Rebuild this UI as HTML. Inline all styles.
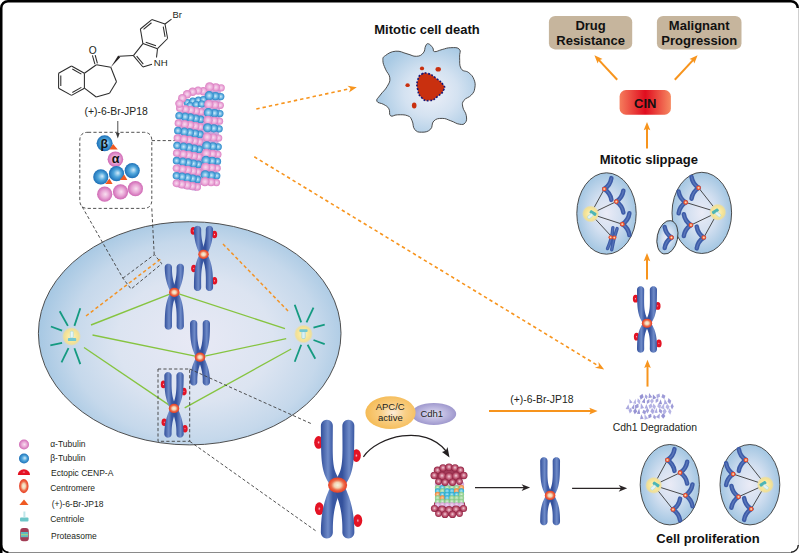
<!DOCTYPE html><html><head><meta charset="utf-8"><title>JP18 mitosis diagram</title><style>html,body{margin:0;padding:0;background:#fff;width:799px;height:553px;overflow:hidden;}svg{display:block;font-family:"Liberation Sans",sans-serif;}</style></head><body><svg width="799" height="553" viewBox="0 0 799 553"><defs>
<radialGradient id="cellg" gradientUnits="userSpaceOnUse" cx="195" cy="340" r="156" gradientTransform="translate(195 340) scale(1 0.8) translate(-195 -340)">
  <stop offset="0" stop-color="#e8e9f5"/>
  <stop offset="0.5" stop-color="#dce4f1"/>
  <stop offset="0.8" stop-color="#c5d8eb"/>
  <stop offset="1" stop-color="#a7c8e3"/>
</radialGradient>
<radialGradient id="scellg" cx="50%" cy="50%" r="50%">
  <stop offset="0" stop-color="#eaebf6"/>
  <stop offset="0.5" stop-color="#d2dff0"/>
  <stop offset="1" stop-color="#a3c6e2"/>
</radialGradient>
<radialGradient id="deadg" cx="55%" cy="55%" r="55%">
  <stop offset="0" stop-color="#eef0f8"/>
  <stop offset="0.5" stop-color="#d4e2f1"/>
  <stop offset="1" stop-color="#a9cae4"/>
</radialGradient>
<radialGradient id="pinkb" cx="50%" cy="50%" r="50%" fx="50%" fy="50%">
  <stop offset="0" stop-color="#f7dcf0"/>
  <stop offset="0.5" stop-color="#eeb2dd"/>
  <stop offset="1" stop-color="#db7ec2"/>
</radialGradient>
<radialGradient id="blueb" cx="50%" cy="50%" r="50%" fx="50%" fy="50%">
  <stop offset="0" stop-color="#d2ebf9"/>
  <stop offset="0.5" stop-color="#74bbe6"/>
  <stop offset="1" stop-color="#2886c8"/>
</radialGradient>
<radialGradient id="pinkB" cx="50%" cy="50%" r="50%" fx="55%" fy="50%">
  <stop offset="0" stop-color="#f8e0f0"/>
  <stop offset="0.55" stop-color="#e7a3d4"/>
  <stop offset="1" stop-color="#cf68b4"/>
</radialGradient>
<radialGradient id="blueB" cx="50%" cy="50%" r="50%" fx="60%" fy="45%">
  <stop offset="0" stop-color="#d4ecfa"/>
  <stop offset="0.5" stop-color="#4fa6dc"/>
  <stop offset="1" stop-color="#1c6fb6"/>
</radialGradient>
<radialGradient id="centg" cx="50%" cy="50%" r="50%">
  <stop offset="0" stop-color="#f5f2de"/>
  <stop offset="0.36" stop-color="#f3d2b2"/>
  <stop offset="0.66" stop-color="#ed6c4a"/>
  <stop offset="0.88" stop-color="#e94b2e"/>
  <stop offset="1" stop-color="#e6452c"/>
</radialGradient>
<radialGradient id="scentg" cx="50%" cy="50%" r="50%">
  <stop offset="0" stop-color="#f8e4c8"/>
  <stop offset="0.3" stop-color="#f4b890"/>
  <stop offset="0.6" stop-color="#ec5a36"/>
  <stop offset="1" stop-color="#e5452c"/>
</radialGradient>
<radialGradient id="markg" cx="50%" cy="50%" r="50%">
  <stop offset="0" stop-color="#f8c4cb"/>
  <stop offset="0.13" stop-color="#f07080"/>
  <stop offset="0.3" stop-color="#e5152a"/>
  <stop offset="1" stop-color="#e3101f"/>
</radialGradient>
<radialGradient id="glowg" cx="50%" cy="50%" r="50%">
  <stop offset="0" stop-color="#fbf2cc"/>
  <stop offset="0.5" stop-color="#f8e79a"/>
  <stop offset="0.8" stop-color="#f6e08a" stop-opacity="0.85"/>
  <stop offset="1" stop-color="#f6e08a" stop-opacity="0"/>
</radialGradient>
<radialGradient id="apcg" cx="55%" cy="50%" r="55%">
  <stop offset="0" stop-color="#fcecd8"/>
  <stop offset="0.45" stop-color="#f9cf86"/>
  <stop offset="1" stop-color="#f5bb55"/>
</radialGradient>
<radialGradient id="cdhg" cx="50%" cy="50%" r="55%">
  <stop offset="0" stop-color="#e2e0f2"/>
  <stop offset="0.5" stop-color="#bdb8e0"/>
  <stop offset="1" stop-color="#9891c9"/>
</radialGradient>
<linearGradient id="cing" x1="0" y1="0" x2="1" y2="0">
  <stop offset="0" stop-color="#f57c5c"/>
  <stop offset="0.5" stop-color="#e00d1f"/>
  <stop offset="1" stop-color="#f68a62"/>
</linearGradient>
<radialGradient id="maroonb" cx="50%" cy="50%" r="50%" fx="50%" fy="45%">
  <stop offset="0" stop-color="#f4d6de"/>
  <stop offset="0.35" stop-color="#d38299"/>
  <stop offset="0.75" stop-color="#b0405e"/>
  <stop offset="1" stop-color="#8a2242"/>
</radialGradient>
<radialGradient id="lavb" cx="50%" cy="50%" r="50%"><stop offset="0" stop-color="#f2dcf0"/><stop offset="1" stop-color="#cf9ed4"/></radialGradient>
<radialGradient id="greenb" cx="50%" cy="50%" r="50%"><stop offset="0" stop-color="#d8f0d4"/><stop offset="1" stop-color="#82c882"/></radialGradient>
<radialGradient id="cyanb" cx="50%" cy="50%" r="50%"><stop offset="0" stop-color="#b6e8f4"/><stop offset="1" stop-color="#1fa9d0"/></radialGradient>
<radialGradient id="orangeb" cx="50%" cy="50%" r="50%"><stop offset="0" stop-color="#fbd0a8"/><stop offset="1" stop-color="#ee8433"/></radialGradient>
<marker id="arrO" viewBox="0 0 10 10" refX="9" refY="5" markerWidth="4.2" markerHeight="4.2" orient="auto" markerUnits="strokeWidth">
  <path d="M0,0 L10,5 L0,10 L2.5,5 z" fill="#f7941d"/>
</marker>
<marker id="arrK" viewBox="0 0 10 10" refX="9" refY="5" markerWidth="5.5" markerHeight="5.5" orient="auto" markerUnits="strokeWidth">
  <path d="M0,0.5 L10,5 L0,9.5 L2.5,5 z" fill="#231f20"/>
</marker>
<linearGradient id="cg1" gradientUnits="userSpaceOnUse" x1="194.05" y1="0" x2="201.35" y2="0"><stop offset="0" stop-color="#34519c"/><stop offset="0.58" stop-color="#6f8bc8"/><stop offset="1" stop-color="#3a58a3"/></linearGradient><linearGradient id="cg2" gradientUnits="userSpaceOnUse" x1="205.65" y1="0" x2="212.95" y2="0"><stop offset="0" stop-color="#34519c"/><stop offset="0.58" stop-color="#6f8bc8"/><stop offset="1" stop-color="#3a58a3"/></linearGradient><linearGradient id="cg3" gradientUnits="userSpaceOnUse" x1="164.85" y1="0" x2="172.15" y2="0"><stop offset="0" stop-color="#34519c"/><stop offset="0.58" stop-color="#6f8bc8"/><stop offset="1" stop-color="#3a58a3"/></linearGradient><linearGradient id="cg4" gradientUnits="userSpaceOnUse" x1="176.45" y1="0" x2="183.75" y2="0"><stop offset="0" stop-color="#34519c"/><stop offset="0.58" stop-color="#6f8bc8"/><stop offset="1" stop-color="#3a58a3"/></linearGradient><linearGradient id="cg5" gradientUnits="userSpaceOnUse" x1="190.15" y1="0" x2="197.45" y2="0"><stop offset="0" stop-color="#34519c"/><stop offset="0.58" stop-color="#6f8bc8"/><stop offset="1" stop-color="#3a58a3"/></linearGradient><linearGradient id="cg6" gradientUnits="userSpaceOnUse" x1="202.55" y1="0" x2="209.85" y2="0"><stop offset="0" stop-color="#34519c"/><stop offset="0.58" stop-color="#6f8bc8"/><stop offset="1" stop-color="#3a58a3"/></linearGradient><linearGradient id="cg7" gradientUnits="userSpaceOnUse" x1="164.45" y1="0" x2="171.75" y2="0"><stop offset="0" stop-color="#34519c"/><stop offset="0.58" stop-color="#6f8bc8"/><stop offset="1" stop-color="#3a58a3"/></linearGradient><linearGradient id="cg8" gradientUnits="userSpaceOnUse" x1="176.25" y1="0" x2="183.55" y2="0"><stop offset="0" stop-color="#34519c"/><stop offset="0.58" stop-color="#6f8bc8"/><stop offset="1" stop-color="#3a58a3"/></linearGradient><linearGradient id="cg9" gradientUnits="userSpaceOnUse" x1="637.15" y1="0" x2="644.35" y2="0"><stop offset="0" stop-color="#34519c"/><stop offset="0.58" stop-color="#6f8bc8"/><stop offset="1" stop-color="#3a58a3"/></linearGradient><linearGradient id="cg10" gradientUnits="userSpaceOnUse" x1="649.65" y1="0" x2="656.85" y2="0"><stop offset="0" stop-color="#34519c"/><stop offset="0.58" stop-color="#6f8bc8"/><stop offset="1" stop-color="#3a58a3"/></linearGradient><linearGradient id="cg11" gradientUnits="userSpaceOnUse" x1="321" y1="0" x2="333" y2="0"><stop offset="0" stop-color="#34519c"/><stop offset="0.58" stop-color="#6f8bc8"/><stop offset="1" stop-color="#3a58a3"/></linearGradient><linearGradient id="cg12" gradientUnits="userSpaceOnUse" x1="342.2" y1="0" x2="354.2" y2="0"><stop offset="0" stop-color="#34519c"/><stop offset="0.58" stop-color="#6f8bc8"/><stop offset="1" stop-color="#3a58a3"/></linearGradient><linearGradient id="cg13" gradientUnits="userSpaceOnUse" x1="540.3" y1="0" x2="547.7" y2="0"><stop offset="0" stop-color="#34519c"/><stop offset="0.58" stop-color="#6f8bc8"/><stop offset="1" stop-color="#3a58a3"/></linearGradient><linearGradient id="cg14" gradientUnits="userSpaceOnUse" x1="552.5" y1="0" x2="559.9" y2="0"><stop offset="0" stop-color="#34519c"/><stop offset="0.58" stop-color="#6f8bc8"/><stop offset="1" stop-color="#3a58a3"/></linearGradient></defs><rect width="799" height="553" fill="#fff"/><path d="M1.25,553 L1.25,8 A6.75,6.75 0 0 1 8,1.25 L791,1.25 A6.75,6.75 0 0 1 797.75,8" fill="none" stroke="#000" stroke-width="2.5"/>
<path d="M798.5,8 L798.5,546" stroke="#cfcfcf" stroke-width="1" fill="none"/>
<path d="M8,552.5 L791,552.5" stroke="#8a8a8a" stroke-width="1" fill="none"/>
<path d="M1.25,545 A7.5,7.5 0 0 0 8.5,552.3" stroke="#000" stroke-width="1.8" fill="none"/>
<path d="M791,552.3 A7.5,7.5 0 0 0 798.3,545" stroke="#222" stroke-width="1.4" fill="none"/>
<g stroke="#2b2b2b" stroke-width="1.05" fill="none"><line x1="71.5" y1="66" x2="84.4" y2="73.3"/><line x1="84.4" y1="73.3" x2="84.4" y2="88.2"/><line x1="84.4" y1="88.2" x2="71.5" y2="95.4"/><line x1="71.5" y1="95.4" x2="58.6" y2="88.2"/><line x1="58.6" y1="88.2" x2="58.6" y2="73.3"/><line x1="58.6" y1="73.3" x2="71.5" y2="66"/><line x1="72.33" y1="69" x2="81.36" y2="74.11"/><line x1="81.36" y1="87.38" x2="72.33" y2="92.42"/><line x1="60.8" y1="85.96" x2="60.8" y2="75.53"/><line x1="84.4" y1="73.3" x2="96.4" y2="64.7"/><line x1="96.4" y1="64.7" x2="110.8" y2="67.3"/><line x1="110.8" y1="67.3" x2="116.5" y2="81.8"/><line x1="116.5" y1="81.8" x2="109.5" y2="93.2"/><line x1="109.5" y1="93.2" x2="96.2" y2="97"/><line x1="96.2" y1="97" x2="84.4" y2="88.2"/><line x1="94.9" y1="64.2" x2="92.4" y2="55.4"/><line x1="97.4" y1="63.4" x2="95.2" y2="55.1"/><line x1="119.2" y1="56.3" x2="133.4" y2="55.6"/><line x1="133.4" y1="55.6" x2="142.9" y2="67"/><line x1="142.9" y1="67" x2="152" y2="64.3"/><line x1="156.5" y1="57.5" x2="157.5" y2="48.7"/><line x1="157.5" y1="48.7" x2="142.9" y2="43.6"/><line x1="142.9" y1="43.6" x2="133.4" y2="55.6"/><line x1="142.9" y1="43.6" x2="140.4" y2="29"/><line x1="140.4" y1="29" x2="151.8" y2="19.6"/><line x1="151.8" y1="19.6" x2="165" y2="24"/><line x1="165" y1="24" x2="167.6" y2="38.5"/><line x1="167.6" y1="38.5" x2="157.5" y2="48.7"/><line x1="165" y1="24" x2="171.5" y2="19.2"/><line x1="143.5" y1="29.3" x2="151.48" y2="22.72"/><line x1="163.24" y1="26.66" x2="165.06" y2="36.81"/><line x1="155.97" y1="45.84" x2="145.75" y2="42.27"/><line x1="136.65" y1="56.08" x2="143.3" y2="64.06"/></g>
<path d="M110.8,67.3 L118.2,55.6 L120.2,57.2 Z" fill="#231f20"/>
<text x="92.7" y="53.7" font-size="10.2" font-weight="normal" fill="#231f20" text-anchor="middle" font-family="Liberation Sans, sans-serif" >O</text>
<text x="153.8" y="66.2" font-size="9.6" font-weight="normal" fill="#231f20" text-anchor="start" font-family="Liberation Sans, sans-serif" >NH</text>
<text x="172.6" y="17.8" font-size="9.4" font-weight="normal" fill="#231f20" text-anchor="start" font-family="Liberation Sans, sans-serif" >Br</text>
<text x="116.2" y="114.8" font-size="10.4" font-weight="normal" fill="#231f20" text-anchor="middle" font-family="Liberation Sans, sans-serif" >(+)-6-Br-JP18</text>
<line x1="117.8" y1="121" x2="117.8" y2="134" stroke="#3a3a3a" stroke-width="0.9"/>
<path d="M115.9,133 L119.7,133 L117.8,138.6 Z" fill="#3a3a3a"/>
<path d="M88,132.3 L143.5,132.3 Q151.8,132.3 151.8,140.5 L151.8,200 Q151.8,208.4 143.5,208.4 L88,208.4 Q79.8,208.4 79.8,200 L79.8,140.5 Q79.8,132.3 88,132.3 Z" stroke="#3d3d3d" stroke-width="0.9" stroke-dasharray="3.2 2.2" fill="none"/>
<line x1="151.8" y1="140.6" x2="176" y2="140.6" stroke="#3d3d3d" stroke-width="0.9" stroke-dasharray="3.2 2.2" fill="none"/>
<ellipse cx="189.7" cy="333.3" rx="151.3" ry="111.6" fill="url(#cellg)" stroke="#474747" stroke-width="0.95"/>
<line x1="82.2" y1="206.8" x2="122.9" y2="278.2" stroke="#3d3d3d" stroke-width="0.9" stroke-dasharray="3.2 2.2" fill="none"/>
<line x1="151.8" y1="208.4" x2="154.2" y2="254.4" stroke="#3d3d3d" stroke-width="0.9" stroke-dasharray="3.2 2.2" fill="none"/>
<path d="M122.9,278.2 L154.4,254.6 L161.8,263.7 L131.1,289 Z" stroke="#3d3d3d" stroke-width="0.9" stroke-dasharray="3.2 2.2" fill="none"/>
<line x1="86" y1="316" x2="162" y2="258" stroke="#f39325" stroke-width="1.5" stroke-dasharray="3.4 2.6" fill="none"/>
<line x1="223" y1="244" x2="288" y2="311" stroke="#f39325" stroke-width="1.5" stroke-dasharray="3.4 2.6" fill="none"/>
<line x1="91" y1="325" x2="174.3" y2="292.3" stroke="#86c440" stroke-width="1.35" fill="none"/>
<line x1="92.5" y1="335" x2="200" y2="357.2" stroke="#86c440" stroke-width="1.35" fill="none"/>
<line x1="84" y1="347.5" x2="174" y2="408.4" stroke="#86c440" stroke-width="1.35" fill="none"/>
<line x1="285" y1="328.7" x2="174.3" y2="292.3" stroke="#86c440" stroke-width="1.35" fill="none"/>
<line x1="286.2" y1="338.7" x2="200" y2="357.2" stroke="#86c440" stroke-width="1.35" fill="none"/>
<line x1="291.2" y1="349" x2="184.7" y2="407.8" stroke="#86c440" stroke-width="1.35" fill="none"/>
<ellipse cx="193.2" cy="230.9" rx="2.66" ry="3.82" fill="url(#markg)"/>
<ellipse cx="214.5" cy="234.5" rx="2.66" ry="3.82" fill="url(#markg)"/>
<ellipse cx="193.8" cy="268.5" rx="2.66" ry="3.82" fill="url(#markg)"/>
<ellipse cx="214.6" cy="280.8" rx="2.66" ry="3.82" fill="url(#markg)"/>
<g><path d="M193.9,229.47 L193.92,230.55 L193.96,231.64 L194.02,232.74 L194.09,233.84 L194.19,234.94 L194.3,236.04 L194.44,237.14 L194.6,238.25 L194.78,239.35 L194.99,240.45 L195.22,241.56 L195.48,242.66 L195.76,243.76 L196.07,244.86 L196.4,245.96 L196.76,247.06 L197.14,248.15 L197.55,249.24 L197.99,250.33 L198.46,251.42 L198.95,252.51 L199.48,253.59 L200.03,254.67 L200.61,255.67 L206.09,252.93 L205.63,251.86 L205.2,250.87 L204.79,249.88 L204.41,248.89 L204.05,247.91 L203.71,246.93 L203.39,245.95 L203.1,244.98 L202.83,244 L202.58,243.03 L202.35,242.06 L202.15,241.09 L201.96,240.12 L201.8,239.16 L201.66,238.19 L201.54,237.22 L201.43,236.25 L201.35,235.29 L201.28,234.32 L201.23,233.35 L201.2,232.37 L201.19,231.4 L201.19,230.42 L201.2,229.43 L201.07,228.49 L200.7,227.61 L200.12,226.86 L199.36,226.28 L198.48,225.92 L197.53,225.8 L196.59,225.93 L195.71,226.3 L194.96,226.88 L194.38,227.64 L194.02,228.52Z" fill="url(#cg1)"/><path d="M201.2,287.35 L201.18,285.98 L201.17,284.61 L201.15,283.24 L201.14,281.88 L201.14,280.53 L201.14,279.18 L201.16,277.84 L201.19,276.51 L201.24,275.18 L201.3,273.86 L201.39,272.55 L201.5,271.25 L201.64,269.95 L201.81,268.66 L202.01,267.38 L202.25,266.1 L202.54,264.83 L202.86,263.56 L203.24,262.3 L203.66,261.03 L204.14,259.77 L204.69,258.5 L205.29,257.22 L206.02,255.81 L200.68,252.79 L199.85,254.13 L199.04,255.61 L198.32,257.1 L197.68,258.58 L197.11,260.07 L196.6,261.56 L196.16,263.05 L195.77,264.53 L195.43,266.01 L195.15,267.48 L194.9,268.94 L194.7,270.4 L194.53,271.85 L194.39,273.3 L194.28,274.73 L194.19,276.16 L194.12,277.58 L194.06,279 L194.02,280.4 L193.98,281.8 L193.96,283.2 L193.94,284.59 L193.92,285.97 L193.9,287.35 L194.02,288.29 L194.39,289.17 L194.97,289.93 L195.72,290.51 L196.61,290.88 L197.55,291 L198.49,290.88 L199.37,290.51 L200.13,289.93 L200.71,289.18 L201.08,288.29Z" fill="url(#cg1)"/><path d="M205.8,229.43 L205.81,230.42 L205.81,231.4 L205.8,232.37 L205.77,233.35 L205.72,234.32 L205.65,235.29 L205.57,236.25 L205.46,237.22 L205.34,238.19 L205.2,239.16 L205.04,240.12 L204.85,241.09 L204.65,242.06 L204.42,243.03 L204.17,244 L203.9,244.98 L203.61,245.95 L203.29,246.93 L202.95,247.91 L202.59,248.89 L202.21,249.88 L201.8,250.87 L201.37,251.86 L200.91,252.93 L206.39,255.67 L206.97,254.67 L207.52,253.59 L208.05,252.51 L208.54,251.42 L209.01,250.33 L209.45,249.24 L209.86,248.15 L210.24,247.06 L210.6,245.96 L210.93,244.86 L211.24,243.76 L211.52,242.66 L211.78,241.56 L212.01,240.45 L212.22,239.35 L212.4,238.25 L212.56,237.14 L212.7,236.04 L212.81,234.94 L212.91,233.84 L212.98,232.74 L213.04,231.64 L213.08,230.55 L213.1,229.47 L212.98,228.52 L212.62,227.64 L212.04,226.88 L211.29,226.3 L210.41,225.93 L209.47,225.8 L208.52,225.92 L207.64,226.28 L206.88,226.86 L206.3,227.61 L205.93,228.49Z" fill="url(#cg2)"/><path d="M213.1,287.35 L213.08,285.97 L213.06,284.59 L213.04,283.2 L213.02,281.8 L212.98,280.4 L212.94,279 L212.88,277.58 L212.81,276.16 L212.72,274.73 L212.61,273.3 L212.47,271.85 L212.3,270.4 L212.1,268.94 L211.85,267.48 L211.57,266.01 L211.23,264.53 L210.84,263.05 L210.4,261.56 L209.89,260.07 L209.32,258.58 L208.68,257.1 L207.96,255.61 L207.15,254.13 L206.32,252.79 L200.98,255.81 L201.71,257.22 L202.31,258.5 L202.86,259.77 L203.34,261.03 L203.76,262.3 L204.14,263.56 L204.46,264.83 L204.75,266.1 L204.99,267.38 L205.19,268.66 L205.36,269.95 L205.5,271.25 L205.61,272.55 L205.7,273.86 L205.76,275.18 L205.81,276.51 L205.84,277.84 L205.86,279.18 L205.86,280.53 L205.86,281.88 L205.85,283.24 L205.83,284.61 L205.82,285.98 L205.8,287.35 L205.92,288.29 L206.29,289.18 L206.87,289.93 L207.63,290.51 L208.51,290.88 L209.45,291 L210.39,290.88 L211.28,290.51 L212.03,289.93 L212.61,289.17 L212.98,288.29Z" fill="url(#cg2)"/></g>
<ellipse cx="203.5" cy="254.3" rx="5.26" ry="4.6" fill="url(#centg)"/>
<g><path d="M164.7,267.37 L164.72,268.46 L164.76,269.55 L164.82,270.65 L164.89,271.75 L164.99,272.86 L165.1,273.96 L165.24,275.07 L165.4,276.18 L165.58,277.28 L165.79,278.39 L166.02,279.5 L166.28,280.6 L166.56,281.71 L166.86,282.81 L167.2,283.92 L167.55,285.02 L167.94,286.12 L168.35,287.21 L168.79,288.31 L169.26,289.4 L169.75,290.49 L170.28,291.58 L170.83,292.66 L171.41,293.67 L176.89,290.93 L176.43,289.86 L176,288.87 L175.6,287.87 L175.21,286.88 L174.85,285.89 L174.51,284.91 L174.19,283.93 L173.9,282.95 L173.63,281.97 L173.38,280.99 L173.15,280.02 L172.95,279.05 L172.76,278.07 L172.6,277.1 L172.46,276.13 L172.34,275.16 L172.23,274.18 L172.15,273.21 L172.08,272.24 L172.03,271.26 L172,270.29 L171.99,269.31 L171.99,268.32 L172,267.33 L171.87,266.39 L171.5,265.51 L170.92,264.76 L170.16,264.18 L169.28,263.82 L168.33,263.7 L167.39,263.83 L166.51,264.2 L165.76,264.78 L165.18,265.54 L164.82,266.42Z" fill="url(#cg3)"/><path d="M172,326.05 L171.98,324.65 L171.97,323.25 L171.95,321.85 L171.94,320.46 L171.94,319.08 L171.94,317.7 L171.96,316.33 L171.99,314.97 L172.04,313.61 L172.1,312.27 L172.19,310.92 L172.3,309.59 L172.44,308.26 L172.61,306.94 L172.81,305.63 L173.06,304.32 L173.34,303.02 L173.67,301.72 L174.04,300.42 L174.47,299.13 L174.95,297.83 L175.5,296.53 L176.1,295.23 L176.83,293.79 L171.47,290.81 L170.63,292.19 L169.83,293.69 L169.11,295.21 L168.47,296.72 L167.9,298.24 L167.39,299.76 L166.95,301.27 L166.57,302.78 L166.23,304.28 L165.95,305.78 L165.7,307.27 L165.5,308.76 L165.33,310.24 L165.19,311.71 L165.08,313.17 L164.99,314.63 L164.92,316.08 L164.86,317.52 L164.82,318.96 L164.78,320.39 L164.76,321.81 L164.74,323.23 L164.72,324.64 L164.7,326.05 L164.82,326.99 L165.19,327.87 L165.77,328.63 L166.52,329.21 L167.41,329.58 L168.35,329.7 L169.29,329.58 L170.17,329.21 L170.93,328.63 L171.51,327.88 L171.88,326.99Z" fill="url(#cg3)"/><path d="M176.6,267.33 L176.61,268.32 L176.61,269.31 L176.6,270.29 L176.57,271.26 L176.52,272.24 L176.45,273.21 L176.37,274.18 L176.26,275.16 L176.14,276.13 L176,277.1 L175.84,278.07 L175.65,279.05 L175.45,280.02 L175.22,280.99 L174.97,281.97 L174.7,282.95 L174.41,283.93 L174.09,284.91 L173.75,285.89 L173.39,286.88 L173,287.87 L172.6,288.87 L172.17,289.86 L171.71,290.93 L177.19,293.67 L177.77,292.66 L178.32,291.58 L178.85,290.49 L179.34,289.4 L179.81,288.31 L180.25,287.21 L180.66,286.12 L181.05,285.02 L181.4,283.92 L181.74,282.81 L182.04,281.71 L182.32,280.6 L182.58,279.5 L182.81,278.39 L183.02,277.28 L183.2,276.18 L183.36,275.07 L183.5,273.96 L183.61,272.86 L183.71,271.75 L183.78,270.65 L183.84,269.55 L183.88,268.46 L183.9,267.37 L183.78,266.42 L183.42,265.54 L182.84,264.78 L182.09,264.2 L181.21,263.83 L180.27,263.7 L179.32,263.82 L178.44,264.18 L177.68,264.76 L177.1,265.51 L176.73,266.39Z" fill="url(#cg4)"/><path d="M183.9,326.05 L183.88,324.64 L183.86,323.23 L183.84,321.81 L183.82,320.39 L183.78,318.96 L183.74,317.52 L183.68,316.08 L183.61,314.63 L183.52,313.17 L183.41,311.71 L183.27,310.24 L183.1,308.76 L182.9,307.27 L182.65,305.78 L182.37,304.28 L182.03,302.78 L181.65,301.27 L181.21,299.76 L180.7,298.24 L180.13,296.72 L179.49,295.21 L178.77,293.69 L177.97,292.19 L177.13,290.81 L171.77,293.79 L172.5,295.23 L173.1,296.53 L173.65,297.83 L174.13,299.13 L174.56,300.42 L174.93,301.72 L175.26,303.02 L175.54,304.32 L175.79,305.63 L175.99,306.94 L176.16,308.26 L176.3,309.59 L176.41,310.92 L176.5,312.27 L176.56,313.61 L176.61,314.97 L176.64,316.33 L176.66,317.7 L176.66,319.08 L176.66,320.46 L176.65,321.85 L176.63,323.25 L176.62,324.65 L176.6,326.05 L176.72,326.99 L177.09,327.88 L177.67,328.63 L178.43,329.21 L179.31,329.58 L180.25,329.7 L181.19,329.58 L182.08,329.21 L182.83,328.63 L183.41,327.87 L183.78,326.99Z" fill="url(#cg4)"/></g>
<ellipse cx="174.3" cy="292.3" rx="5.26" ry="4.6" fill="url(#centg)"/>
<g><path d="M190,323.65 L190.02,325.05 L190.04,326.46 L190.06,327.87 L190.08,329.28 L190.12,330.71 L190.16,332.13 L190.22,333.57 L190.3,335.02 L190.39,336.47 L190.51,337.93 L190.66,339.4 L190.84,340.87 L191.06,342.35 L191.32,343.84 L191.62,345.34 L191.98,346.84 L192.39,348.35 L192.87,349.86 L193.41,351.37 L194.02,352.89 L194.7,354.4 L195.47,355.91 L196.33,357.41 L197.22,358.77 L202.48,355.63 L201.7,354.2 L201.05,352.9 L200.47,351.61 L199.95,350.33 L199.5,349.05 L199.1,347.76 L198.75,346.48 L198.44,345.19 L198.19,343.9 L197.97,342.6 L197.78,341.29 L197.63,339.98 L197.51,338.66 L197.42,337.33 L197.35,335.99 L197.3,334.65 L197.27,333.3 L197.25,331.94 L197.24,330.57 L197.24,329.2 L197.25,327.82 L197.27,326.44 L197.28,325.04 L197.3,323.65 L197.18,322.7 L196.81,321.82 L196.23,321.07 L195.47,320.49 L194.59,320.12 L193.65,320 L192.7,320.12 L191.82,320.49 L191.07,321.07 L190.49,321.83 L190.12,322.71Z" fill="url(#cg5)"/><path d="M197.3,381.97 L197.29,380.99 L197.29,380.02 L197.31,379.05 L197.34,378.09 L197.39,377.13 L197.46,376.17 L197.55,375.21 L197.67,374.25 L197.8,373.29 L197.95,372.33 L198.12,371.37 L198.32,370.41 L198.54,369.45 L198.78,368.49 L199.05,367.52 L199.34,366.56 L199.65,365.59 L199.99,364.62 L200.35,363.64 L200.74,362.67 L201.16,361.69 L201.59,360.7 L202.05,359.71 L202.55,358.65 L197.15,355.75 L196.54,356.75 L195.95,357.82 L195.39,358.9 L194.86,359.98 L194.36,361.07 L193.89,362.16 L193.45,363.25 L193.04,364.34 L192.66,365.44 L192.31,366.54 L191.98,367.64 L191.68,368.74 L191.4,369.84 L191.16,370.94 L190.94,372.05 L190.74,373.15 L190.57,374.25 L190.42,375.36 L190.3,376.46 L190.2,377.56 L190.12,378.66 L190.06,379.76 L190.02,380.85 L190,381.93 L190.12,382.88 L190.48,383.76 L191.05,384.52 L191.81,385.1 L192.69,385.47 L193.63,385.6 L194.58,385.48 L195.46,385.12 L196.22,384.55 L196.8,383.79 L197.17,382.91Z" fill="url(#cg5)"/><path d="M202.7,323.65 L202.72,325.04 L202.73,326.44 L202.75,327.82 L202.76,329.2 L202.76,330.57 L202.75,331.94 L202.73,333.3 L202.7,334.65 L202.65,335.99 L202.58,337.33 L202.49,338.66 L202.37,339.98 L202.22,341.29 L202.03,342.6 L201.81,343.9 L201.56,345.19 L201.25,346.48 L200.9,347.76 L200.5,349.05 L200.05,350.33 L199.53,351.61 L198.95,352.9 L198.3,354.2 L197.52,355.63 L202.78,358.77 L203.67,357.41 L204.53,355.91 L205.3,354.4 L205.98,352.89 L206.59,351.37 L207.13,349.86 L207.61,348.35 L208.02,346.84 L208.38,345.34 L208.68,343.84 L208.94,342.35 L209.16,340.87 L209.34,339.4 L209.49,337.93 L209.61,336.47 L209.7,335.02 L209.78,333.57 L209.84,332.13 L209.88,330.71 L209.92,329.28 L209.94,327.87 L209.96,326.46 L209.98,325.05 L210,323.65 L209.88,322.71 L209.51,321.83 L208.93,321.07 L208.18,320.49 L207.3,320.12 L206.35,320 L205.41,320.12 L204.53,320.49 L203.77,321.07 L203.19,321.82 L202.82,322.7Z" fill="url(#cg6)"/><path d="M210,381.93 L209.98,380.85 L209.94,379.76 L209.88,378.66 L209.8,377.56 L209.7,376.46 L209.58,375.36 L209.43,374.25 L209.26,373.15 L209.06,372.05 L208.84,370.94 L208.6,369.84 L208.32,368.74 L208.02,367.64 L207.69,366.54 L207.34,365.44 L206.96,364.34 L206.55,363.25 L206.11,362.16 L205.64,361.07 L205.14,359.98 L204.61,358.9 L204.05,357.82 L203.46,356.75 L202.85,355.75 L197.45,358.65 L197.95,359.71 L198.41,360.7 L198.84,361.69 L199.26,362.67 L199.65,363.64 L200.01,364.62 L200.35,365.59 L200.66,366.56 L200.95,367.52 L201.22,368.49 L201.46,369.45 L201.68,370.41 L201.88,371.37 L202.05,372.33 L202.2,373.29 L202.33,374.25 L202.45,375.21 L202.54,376.17 L202.61,377.13 L202.66,378.09 L202.69,379.05 L202.71,380.02 L202.71,380.99 L202.7,381.97 L202.83,382.91 L203.2,383.79 L203.78,384.55 L204.54,385.12 L205.42,385.48 L206.37,385.6 L207.31,385.47 L208.19,385.1 L208.95,384.52 L209.52,383.76 L209.88,382.88Z" fill="url(#cg6)"/></g>
<ellipse cx="200" cy="357.2" rx="5.26" ry="4.6" fill="url(#centg)"/>
<ellipse cx="163.4" cy="384.4" rx="2.66" ry="3.82" fill="url(#markg)"/>
<ellipse cx="184" cy="391.6" rx="2.66" ry="3.82" fill="url(#markg)"/>
<ellipse cx="164.2" cy="422.3" rx="2.66" ry="3.82" fill="url(#markg)"/>
<ellipse cx="185" cy="428.7" rx="2.66" ry="3.82" fill="url(#markg)"/>
<g><path d="M164.3,375.75 L164.32,377.11 L164.34,378.48 L164.36,379.85 L164.38,381.23 L164.42,382.62 L164.46,384.01 L164.52,385.41 L164.59,386.81 L164.68,388.23 L164.8,389.65 L164.94,391.08 L165.11,392.51 L165.32,393.96 L165.57,395.41 L165.86,396.86 L166.2,398.33 L166.59,399.79 L167.05,401.27 L167.56,402.74 L168.14,404.21 L168.8,405.69 L169.54,407.16 L170.35,408.62 L171.2,409.95 L176.5,406.85 L175.76,405.46 L175.14,404.2 L174.59,402.95 L174.1,401.7 L173.67,400.46 L173.29,399.21 L172.96,397.96 L172.67,396.71 L172.43,395.45 L172.22,394.19 L172.05,392.92 L171.91,391.64 L171.79,390.35 L171.7,389.06 L171.64,387.76 L171.59,386.45 L171.56,385.14 L171.55,383.82 L171.54,382.49 L171.54,381.15 L171.55,379.81 L171.57,378.46 L171.58,377.11 L171.6,375.75 L171.48,374.81 L171.11,373.92 L170.53,373.17 L169.77,372.59 L168.89,372.22 L167.95,372.1 L167.01,372.22 L166.12,372.59 L165.37,373.17 L164.79,373.93 L164.42,374.81Z" fill="url(#cg7)"/><path d="M171.6,434.07 L171.59,433.05 L171.59,432.03 L171.6,431.02 L171.64,430.02 L171.69,429.01 L171.75,428.01 L171.84,427.01 L171.95,426.01 L172.07,425 L172.22,424 L172.38,423 L172.57,422 L172.78,420.99 L173.01,419.99 L173.27,418.98 L173.54,417.97 L173.84,416.97 L174.17,415.95 L174.51,414.94 L174.88,413.92 L175.28,412.9 L175.69,411.88 L176.13,410.85 L176.6,409.76 L171.1,407.04 L170.52,408.08 L169.95,409.19 L169.42,410.31 L168.92,411.43 L168.45,412.55 L168,413.67 L167.58,414.8 L167.19,415.93 L166.83,417.05 L166.49,418.19 L166.18,419.32 L165.9,420.45 L165.64,421.59 L165.4,422.72 L165.19,423.86 L165.01,424.99 L164.84,426.13 L164.71,427.27 L164.59,428.4 L164.49,429.53 L164.42,430.66 L164.36,431.79 L164.32,432.91 L164.3,434.03 L164.42,434.98 L164.78,435.86 L165.36,436.62 L166.11,437.2 L166.99,437.57 L167.93,437.7 L168.88,437.58 L169.76,437.22 L170.52,436.64 L171.1,435.89 L171.47,435.01Z" fill="url(#cg7)"/><path d="M176.4,375.75 L176.42,377.11 L176.43,378.46 L176.45,379.81 L176.46,381.15 L176.46,382.49 L176.45,383.82 L176.44,385.14 L176.41,386.45 L176.36,387.76 L176.3,389.06 L176.21,390.35 L176.09,391.64 L175.95,392.92 L175.78,394.19 L175.57,395.45 L175.33,396.71 L175.04,397.96 L174.71,399.21 L174.33,400.46 L173.9,401.7 L173.41,402.95 L172.86,404.2 L172.24,405.46 L171.5,406.85 L176.8,409.95 L177.65,408.62 L178.46,407.16 L179.2,405.69 L179.86,404.21 L180.44,402.74 L180.95,401.27 L181.41,399.79 L181.8,398.33 L182.14,396.86 L182.43,395.41 L182.68,393.96 L182.89,392.51 L183.06,391.08 L183.2,389.65 L183.32,388.23 L183.41,386.81 L183.48,385.41 L183.54,384.01 L183.58,382.62 L183.62,381.23 L183.64,379.85 L183.66,378.48 L183.68,377.11 L183.7,375.75 L183.58,374.81 L183.21,373.93 L182.63,373.17 L181.88,372.59 L180.99,372.22 L180.05,372.1 L179.11,372.22 L178.23,372.59 L177.47,373.17 L176.89,373.92 L176.52,374.81Z" fill="url(#cg8)"/><path d="M183.7,434.03 L183.68,432.91 L183.64,431.79 L183.58,430.66 L183.51,429.53 L183.41,428.4 L183.29,427.27 L183.16,426.13 L182.99,424.99 L182.81,423.86 L182.6,422.72 L182.36,421.59 L182.1,420.45 L181.82,419.32 L181.51,418.19 L181.17,417.05 L180.81,415.93 L180.42,414.8 L180,413.67 L179.55,412.55 L179.08,411.43 L178.58,410.31 L178.05,409.19 L177.48,408.08 L176.9,407.04 L171.4,409.76 L171.87,410.85 L172.31,411.88 L172.72,412.9 L173.12,413.92 L173.49,414.94 L173.83,415.95 L174.16,416.97 L174.46,417.97 L174.73,418.98 L174.99,419.99 L175.22,420.99 L175.43,422 L175.62,423 L175.78,424 L175.93,425 L176.05,426.01 L176.16,427.01 L176.25,428.01 L176.31,429.01 L176.36,430.02 L176.4,431.02 L176.41,432.03 L176.41,433.05 L176.4,434.07 L176.53,435.01 L176.9,435.89 L177.48,436.64 L178.24,437.22 L179.12,437.58 L180.07,437.7 L181.01,437.57 L181.89,437.2 L182.64,436.62 L183.22,435.86 L183.58,434.98Z" fill="url(#cg8)"/></g>
<ellipse cx="174" cy="408.4" rx="5.26" ry="4.6" fill="url(#centg)"/>
<rect x="158" y="369" width="31.7" height="72.3" stroke="#3d3d3d" stroke-width="0.9" stroke-dasharray="3.2 2.2" fill="none"/>
<line x1="189.7" y1="369" x2="312" y2="424" stroke="#3d3d3d" stroke-width="0.9" stroke-dasharray="3.2 2.2" fill="none"/>
<line x1="189.7" y1="441.3" x2="316" y2="531" stroke="#3d3d3d" stroke-width="0.9" stroke-dasharray="3.2 2.2" fill="none"/>
<circle cx="71.5" cy="336.5" r="9.5" fill="url(#glowg)"/>
<line x1="59.7" y1="311.2" x2="67.9" y2="325.9" stroke="#149a80" stroke-width="1.8" stroke-linecap="butt"/>
<line x1="80.3" y1="308.2" x2="74.4" y2="325.9" stroke="#149a80" stroke-width="1.8" stroke-linecap="butt"/>
<line x1="50.9" y1="326.5" x2="62.1" y2="330.6" stroke="#149a80" stroke-width="1.8" stroke-linecap="butt"/>
<line x1="50.3" y1="345.3" x2="62.1" y2="342.9" stroke="#149a80" stroke-width="1.8" stroke-linecap="butt"/>
<line x1="61.5" y1="362.4" x2="68.5" y2="348.2" stroke="#149a80" stroke-width="1.8" stroke-linecap="butt"/>
<line x1="80.3" y1="364.1" x2="74.4" y2="348.2" stroke="#149a80" stroke-width="1.8" stroke-linecap="butt"/>
<rect x="70.3" y="331.2" width="3.0" height="6.6" rx="1" fill="#e6f5f8" stroke="#a0d8dc" stroke-width="0.6"/>
<rect x="67.9" y="338.1" width="8.3" height="3.0" rx="0.9" fill="#72c8d2"/>
<circle cx="303.5" cy="334" r="9.5" fill="url(#glowg)"/>
<line x1="294.7" y1="304.7" x2="301.2" y2="322.4" stroke="#149a80" stroke-width="1.8" stroke-linecap="butt"/>
<line x1="313.5" y1="307.6" x2="306.5" y2="322.4" stroke="#149a80" stroke-width="1.8" stroke-linecap="butt"/>
<line x1="324.7" y1="324.7" x2="313.5" y2="327.6" stroke="#149a80" stroke-width="1.8" stroke-linecap="butt"/>
<line x1="324.7" y1="344.1" x2="313.5" y2="340" stroke="#149a80" stroke-width="1.8" stroke-linecap="butt"/>
<line x1="315.3" y1="358.8" x2="307.6" y2="344.7" stroke="#149a80" stroke-width="1.8" stroke-linecap="butt"/>
<line x1="294.7" y1="361.8" x2="301.2" y2="344.7" stroke="#149a80" stroke-width="1.8" stroke-linecap="butt"/>
<rect x="301.8" y="331.6" width="3.4" height="7" rx="1" fill="#dcf0f6" stroke="#8fd0d8" stroke-width="0.6"/>
<rect x="299.4" y="329.3" width="8.2" height="2.7" rx="0.9" fill="#72c8d2"/>
<circle cx="104.6" cy="143.3" r="8" fill="url(#blueB)"/>
<circle cx="115.4" cy="159.2" r="7.8" fill="url(#pinkB)"/>
<path d="M113.1,144 L117.8,149.6 L109.3,149.6 Z" fill="#f05a22"/>
<circle cx="135.4" cy="188.7" r="7.6" fill="url(#pinkB)"/>
<circle cx="120.5" cy="191.8" r="7.6" fill="url(#pinkB)"/>
<circle cx="104.7" cy="194.2" r="7.6" fill="url(#pinkB)"/>
<circle cx="132.2" cy="170.6" r="7.6" fill="url(#blueB)"/>
<circle cx="100.8" cy="176.9" r="7.6" fill="url(#blueB)"/>
<circle cx="116.5" cy="173.7" r="7.6" fill="url(#blueB)"/>
<path d="M109.4,178.4 L112.6,183.9 L105.2,183.9 Z" fill="#f05a22"/>
<path d="M124.2,174.4 L127.4,179.9 L120,179.9 Z" fill="#f05a22"/>
<text x="104.4" y="147.6" font-size="12.5" font-weight="bold" fill="#111" text-anchor="middle" font-family="Liberation Sans, sans-serif" >&#946;</text>
<text x="115.6" y="163" font-size="12.5" font-weight="bold" fill="#111" text-anchor="middle" font-family="Liberation Sans, sans-serif" >&#945;</text>
<g><path d="M179.8,112 L201,108 L205.8,92 L221,88 L216.75,183 L201.15,185 L195.85,191 L176.05,187 Z" fill="#c9a9dd"/><circle cx="187.28" cy="102.5" r="3.6" fill="url(#blueb)"/><circle cx="192.84" cy="101.2" r="3.6" fill="url(#blueb)"/><circle cx="198.39" cy="100.2" r="3.6" fill="url(#blueb)"/><circle cx="203.42" cy="99.6" r="3.6" fill="url(#blueb)"/><circle cx="190.12" cy="105.5" r="3.6" fill="url(#blueb)"/><circle cx="196.18" cy="104.5" r="3.6" fill="url(#blueb)"/><circle cx="201.7" cy="104" r="3.6" fill="url(#blueb)"/><circle cx="201" cy="111.9" r="3.8" fill="url(#pinkb)"/><circle cx="196.05" cy="111.05" r="4.1" fill="url(#pinkb)"/><circle cx="190.79" cy="110.15" r="4.3" fill="url(#pinkb)"/><circle cx="185.44" cy="109.23" r="4.2" fill="url(#pinkb)"/><circle cx="179.82" cy="108.27" r="3.8" fill="url(#pinkb)"/><circle cx="200.63" cy="119.4" r="3.8" fill="url(#blueb)"/><circle cx="195.67" cy="118.55" r="4.1" fill="url(#blueb)"/><circle cx="190.42" cy="117.65" r="4.3" fill="url(#blueb)"/><circle cx="185.06" cy="116.73" r="4.2" fill="url(#blueb)"/><circle cx="179.11" cy="115.71" r="3.8" fill="url(#blueb)"/><circle cx="200.25" cy="126.9" r="3.8" fill="url(#pinkb)"/><circle cx="195.3" cy="126.05" r="4.1" fill="url(#pinkb)"/><circle cx="190.04" cy="125.15" r="4.3" fill="url(#pinkb)"/><circle cx="184.69" cy="124.23" r="4.2" fill="url(#pinkb)"/><circle cx="178.46" cy="123.17" r="3.8" fill="url(#pinkb)"/><circle cx="199.88" cy="134.4" r="3.8" fill="url(#blueb)"/><circle cx="194.92" cy="133.55" r="4.1" fill="url(#blueb)"/><circle cx="189.67" cy="132.65" r="4.3" fill="url(#blueb)"/><circle cx="184.31" cy="131.74" r="4.2" fill="url(#blueb)"/><circle cx="177.89" cy="130.63" r="3.8" fill="url(#blueb)"/><circle cx="199.5" cy="141.9" r="3.8" fill="url(#pinkb)"/><circle cx="194.55" cy="141.05" r="4.1" fill="url(#pinkb)"/><circle cx="189.29" cy="140.15" r="4.3" fill="url(#pinkb)"/><circle cx="183.94" cy="139.24" r="4.2" fill="url(#pinkb)"/><circle cx="177.41" cy="138.12" r="3.8" fill="url(#pinkb)"/><circle cx="199.13" cy="149.4" r="3.8" fill="url(#blueb)"/><circle cx="194.17" cy="148.55" r="4.1" fill="url(#blueb)"/><circle cx="188.92" cy="147.65" r="4.3" fill="url(#blueb)"/><circle cx="183.56" cy="146.74" r="4.2" fill="url(#blueb)"/><circle cx="177.03" cy="145.62" r="3.8" fill="url(#blueb)"/><circle cx="198.75" cy="156.9" r="3.8" fill="url(#pinkb)"/><circle cx="193.8" cy="156.05" r="4.1" fill="url(#pinkb)"/><circle cx="188.54" cy="155.15" r="4.3" fill="url(#pinkb)"/><circle cx="183.19" cy="154.24" r="4.2" fill="url(#pinkb)"/><circle cx="176.76" cy="153.13" r="3.8" fill="url(#pinkb)"/><circle cx="198.38" cy="164.4" r="3.8" fill="url(#blueb)"/><circle cx="193.42" cy="163.55" r="4.1" fill="url(#blueb)"/><circle cx="188.17" cy="162.65" r="4.3" fill="url(#blueb)"/><circle cx="182.81" cy="161.74" r="4.2" fill="url(#blueb)"/><circle cx="176.58" cy="160.67" r="3.8" fill="url(#blueb)"/><circle cx="198" cy="171.9" r="3.8" fill="url(#pinkb)"/><circle cx="193.05" cy="171.05" r="4.1" fill="url(#pinkb)"/><circle cx="187.79" cy="170.15" r="4.3" fill="url(#pinkb)"/><circle cx="182.44" cy="169.24" r="4.2" fill="url(#pinkb)"/><circle cx="176.49" cy="168.21" r="3.8" fill="url(#pinkb)"/><circle cx="197.63" cy="179.4" r="3.8" fill="url(#blueb)"/><circle cx="192.67" cy="178.55" r="4.1" fill="url(#blueb)"/><circle cx="187.42" cy="177.65" r="4.3" fill="url(#blueb)"/><circle cx="182.06" cy="176.74" r="4.2" fill="url(#blueb)"/><circle cx="176.45" cy="175.77" r="3.8" fill="url(#blueb)"/><circle cx="197.25" cy="186.9" r="3.8" fill="url(#pinkb)"/><circle cx="192.3" cy="186.05" r="4.1" fill="url(#pinkb)"/><circle cx="187.04" cy="185.15" r="4.3" fill="url(#pinkb)"/><circle cx="181.69" cy="184.24" r="4.2" fill="url(#pinkb)"/><circle cx="176.43" cy="183.33" r="3.8" fill="url(#pinkb)"/><circle cx="203.34" cy="91.2" r="4.2" fill="url(#pinkb)"/><circle cx="198.07" cy="90.6" r="4.2" fill="url(#pinkb)"/><circle cx="192.61" cy="91.8" r="4.2" fill="url(#pinkb)"/><circle cx="187.09" cy="94.3" r="4.2" fill="url(#pinkb)"/><circle cx="182.29" cy="98.2" r="4.2" fill="url(#pinkb)"/><circle cx="179.42" cy="103.6" r="4.2" fill="url(#pinkb)"/><circle cx="221.21" cy="87.78" r="3.6" fill="url(#pinkb)"/><circle cx="215.83" cy="87.34" r="4.1" fill="url(#pinkb)"/><circle cx="209.66" cy="86.85" r="4.6" fill="url(#pinkb)"/><circle cx="220.77" cy="96.58" r="3.6" fill="url(#blueb)"/><circle cx="215.39" cy="96.14" r="4.1" fill="url(#blueb)"/><circle cx="209.22" cy="95.65" r="4.6" fill="url(#blueb)"/><circle cx="220.34" cy="105.28" r="3.6" fill="url(#pinkb)"/><circle cx="214.96" cy="104.84" r="4.1" fill="url(#pinkb)"/><circle cx="208.78" cy="104.35" r="4.6" fill="url(#pinkb)"/><circle cx="219.92" cy="113.58" r="3.6" fill="url(#blueb)"/><circle cx="214.54" cy="113.14" r="4.1" fill="url(#blueb)"/><circle cx="208.37" cy="112.65" r="4.6" fill="url(#blueb)"/><circle cx="219.54" cy="121.18" r="3.6" fill="url(#pinkb)"/><circle cx="214.16" cy="120.74" r="4.1" fill="url(#pinkb)"/><circle cx="207.99" cy="120.25" r="4.6" fill="url(#pinkb)"/><circle cx="219.16" cy="128.78" r="3.6" fill="url(#blueb)"/><circle cx="213.78" cy="128.34" r="4.1" fill="url(#blueb)"/><circle cx="207.61" cy="127.85" r="4.6" fill="url(#blueb)"/><circle cx="218.7" cy="137.98" r="3.6" fill="url(#pinkb)"/><circle cx="213.32" cy="137.54" r="4.1" fill="url(#pinkb)"/><circle cx="207.15" cy="137.05" r="4.6" fill="url(#pinkb)"/><circle cx="218.26" cy="146.78" r="3.6" fill="url(#blueb)"/><circle cx="212.88" cy="146.34" r="4.1" fill="url(#blueb)"/><circle cx="206.71" cy="145.85" r="4.6" fill="url(#blueb)"/><circle cx="217.88" cy="154.38" r="3.6" fill="url(#pinkb)"/><circle cx="212.5" cy="153.94" r="4.1" fill="url(#pinkb)"/><circle cx="206.33" cy="153.45" r="4.6" fill="url(#pinkb)"/><circle cx="217.53" cy="161.38" r="3.6" fill="url(#blueb)"/><circle cx="212.15" cy="160.94" r="4.1" fill="url(#blueb)"/><circle cx="205.98" cy="160.45" r="4.6" fill="url(#blueb)"/><circle cx="217.19" cy="168.18" r="3.6" fill="url(#pinkb)"/><circle cx="211.81" cy="167.74" r="4.1" fill="url(#pinkb)"/><circle cx="205.64" cy="167.25" r="4.6" fill="url(#pinkb)"/><circle cx="216.81" cy="175.78" r="3.6" fill="url(#blueb)"/><circle cx="211.43" cy="175.34" r="4.1" fill="url(#blueb)"/><circle cx="205.26" cy="174.85" r="4.6" fill="url(#blueb)"/><circle cx="216.47" cy="182.58" r="3.6" fill="url(#pinkb)"/><circle cx="211.09" cy="182.14" r="4.1" fill="url(#pinkb)"/><circle cx="204.92" cy="181.65" r="4.6" fill="url(#pinkb)"/></g>
<line x1="256.3" y1="109" x2="350.5" y2="88.6" stroke="#f7941d" stroke-width="1.6" stroke-dasharray="3.4 3.0" fill="none"/>
<path d="M356.8,87.3 L348.92,92.48 L350.74,88.61 L347.48,85.83 Z" fill="#f7941d"/>
<line x1="254.3" y1="156.8" x2="598.6" y2="366" stroke="#f7941d" stroke-width="1.6" stroke-dasharray="3.4 3.0" fill="none"/>
<path d="M604.2,369.4 L594.91,367.74 L598.9,366.18 L598.44,361.92 Z" fill="#f7941d"/>
<text x="427" y="34.2" font-size="13" font-weight="bold" fill="#111" text-anchor="middle" font-family="Liberation Sans, sans-serif" >Mitotic cell death</text>
<path d="M428.4,43.8 C430.06,44.2 431.28,45.88 432.7,47.7 C434.12,49.52 432.28,51.18 434.5,51.6 C436.72,52.02 438.4,50.41 442.2,49.5 C446,48.59 446.79,47.75 450.8,47.7 C454.81,47.65 457.35,47.08 459.4,49.3 C461.45,51.52 459.2,52.7 459.6,57.2 C460,61.7 458.95,64.98 461.1,68.6 C463.25,72.22 465.79,70.16 468.8,72.7 C471.81,75.24 472.6,75.91 474,79.5 C475.4,83.09 475.41,84.48 474.8,88.1 C474.19,91.72 473.94,92.13 471.4,95 C468.86,97.87 465.91,97.6 463.9,100.4 C461.89,103.2 462.24,103.45 462.8,107 C463.36,110.55 465.74,111.91 466.3,115.6 C466.86,119.29 466.81,120.79 465.2,122.8 C463.59,124.81 462.76,124.67 459.4,124.2 C456.04,123.73 454.81,122.15 450.8,120.8 C446.79,119.45 446.17,118.35 442.2,118.4 C438.23,118.45 436.55,118.43 433.8,121 C431.05,123.57 433.25,126.79 430.4,129.4 C427.55,132.01 425.26,132.2 421.6,132.2 C417.94,132.2 416.92,132.06 414.7,129.4 C412.48,126.74 413.71,123.97 412.1,120.8 C410.49,117.63 411.21,117.2 407.8,115.8 C404.39,114.4 401.51,114.8 397.5,114.8 C393.49,114.8 392.61,117.2 390.6,115.8 C388.59,114.4 390.49,111.44 388.9,108.8 C387.31,106.16 386.6,106.27 383.8,104.5 C381,102.73 377.72,103.42 376.9,101.2 C376.08,98.98 377.9,98.45 380.3,95 C382.7,91.55 384.98,90.41 387.2,86.4 C389.42,82.39 390.2,81.81 389.8,77.8 C389.4,73.79 387.11,73.21 385.5,69.2 C383.89,65.19 382.9,63.8 382.9,60.6 C382.9,57.4 382.49,57.69 385.5,55.5 C388.51,53.31 390.78,51.6 395.8,51.2 C400.82,50.8 402.19,52.61 407,53.8 C411.81,54.99 412.6,56.51 416.4,56.3 C420.2,56.09 421.15,55.3 423.3,52.9 C425.45,50.5 424.41,48.12 425.6,46 C426.79,43.88 426.74,43.4 428.4,43.8Z" fill="url(#deadg)" stroke="#3a3a3a" stroke-width="0.9"/>
<path d="M421.8,74.2 C424.86,72.28 423.74,72.4 428,73.6 C432.26,74.8 431.5,74.9 436,78.2 C440.5,81.5 440.72,81.06 443,84.6 C445.28,88.14 445.25,86.43 443.6,90 C441.95,93.57 441.73,93.32 437.5,96.5 C433.27,99.68 434.3,100.3 429.5,100.6 C424.7,100.9 425.07,100.98 421.5,97.5 C417.93,94.02 418.71,94.25 417.6,89 C416.49,83.75 416.54,84.44 417.8,80 C419.06,75.56 418.74,76.12 421.8,74.2Z" fill="#c9300f" stroke="#15197a" stroke-width="1.6" stroke-dasharray="1.9 1.5"/>
<ellipse cx="422" cy="68.4" rx="2.1" ry="1.9" fill="#c9300f"/>
<ellipse cx="438.2" cy="69.2" rx="2.7" ry="2.3" fill="#c9300f"/>
<ellipse cx="407.6" cy="85.2" rx="2.2" ry="1.9" fill="#c9300f"/>
<ellipse cx="414.2" cy="105.4" rx="2.3" ry="3" fill="#c9300f"/>
<rect x="548.9" y="16" width="83.3" height="33.4" rx="6.2" fill="#c6b59d"/>
<rect x="656.9" y="16" width="84.6" height="33.4" rx="6.2" fill="#c6b59d"/>
<text x="590.6" y="29.6" font-size="13" font-weight="bold" fill="#111" text-anchor="middle" font-family="Liberation Sans, sans-serif" >Drug</text>
<text x="590.6" y="45" font-size="13" font-weight="bold" fill="#111" text-anchor="middle" font-family="Liberation Sans, sans-serif" >Resistance</text>
<text x="699.2" y="29.6" font-size="13" font-weight="bold" fill="#111" text-anchor="middle" font-family="Liberation Sans, sans-serif" >Malignant</text>
<text x="699.2" y="45" font-size="13" font-weight="bold" fill="#111" text-anchor="middle" font-family="Liberation Sans, sans-serif" >Progression</text>
<rect x="619.6" y="90.1" width="51.3" height="24.6" rx="6.3" fill="url(#cing)"/>
<text x="645.3" y="107.9" font-size="13" font-weight="bold" fill="#111" text-anchor="middle" font-family="Liberation Sans, sans-serif" >CIN</text>
<line x1="617.2" y1="79.7" x2="597.8" y2="58.94" stroke="#f7941d" stroke-width="2"/>
<path d="M594.4,55.3 L602.48,59.11 L598.93,60.15 L597.66,63.62 Z" fill="#f7941d"/>
<line x1="674.8" y1="79.7" x2="694.2" y2="58.94" stroke="#f7941d" stroke-width="2"/>
<path d="M697.6,55.3 L694.34,63.62 L693.07,60.15 L689.52,59.11 Z" fill="#f7941d"/>
<line x1="647" y1="148.5" x2="647" y2="126.98" stroke="#f7941d" stroke-width="2"/>
<path d="M647,122 L650.3,130.3 L647,128.64 L643.7,130.3 Z" fill="#f7941d"/>
<text x="648.8" y="164" font-size="13" font-weight="bold" fill="#111" text-anchor="middle" font-family="Liberation Sans, sans-serif" >Mitotic slippage</text>
<line x1="647" y1="279.5" x2="647" y2="257.98" stroke="#f7941d" stroke-width="2"/>
<path d="M647,253 L650.3,261.3 L647,259.64 L643.7,261.3 Z" fill="#f7941d"/>
<line x1="647.5" y1="386.6" x2="647.5" y2="364.78" stroke="#f7941d" stroke-width="2"/>
<path d="M647.5,359.8 L650.8,368.1 L647.5,366.44 L644.2,368.1 Z" fill="#f7941d"/>
<ellipse cx="606.5" cy="213.5" rx="29.7" ry="40.7" fill="url(#scellg)" stroke="#3b3b3b" stroke-width="0.9" transform="rotate(0 606.5 213.5)"/>
<line x1="594.22" y1="207.33" x2="604.3" y2="189" stroke="#2e2e2e" stroke-width="0.85"/>
<line x1="597.37" y1="210.66" x2="616.3" y2="201.6" stroke="#2e2e2e" stroke-width="0.85"/>
<line x1="597.73" y1="216.22" x2="622.3" y2="224.2" stroke="#2e2e2e" stroke-width="0.85"/>
<line x1="595.69" y1="219.41" x2="612" y2="237.1" stroke="#2e2e2e" stroke-width="0.85"/>
<circle cx="590.6" cy="213.9" r="8.6" fill="url(#glowg)"/>
<g transform="translate(590.6 213.9) scale(1 1)"><rect x="-2.0" y="-3.6" width="7.2" height="3.2" rx="1" fill="#4db5b5" transform="rotate(32)"/><rect x="-4.6" y="0.1" width="5.8" height="3.0" rx="1" fill="#e4f3f6" stroke="#9fd6da" stroke-width="0.5" transform="rotate(-38)"/></g>
<path d="M604.3,189 Q610.3,185.11 611.38,178.1" stroke="#3d5ca8" stroke-width="4.5" fill="none" stroke-linecap="round"/><path d="M604.3,189 Q610.3,185.11 611.38,178.1" stroke="#7590cc" stroke-width="1.4" fill="none" stroke-linecap="round" opacity="0.5"/><path d="M604.3,189 Q610.3,192.89 611.38,199.9" stroke="#3d5ca8" stroke-width="4.5" fill="none" stroke-linecap="round"/><path d="M604.3,189 Q610.3,192.89 611.38,199.9" stroke="#7590cc" stroke-width="1.4" fill="none" stroke-linecap="round" opacity="0.5"/>
<circle cx="604.3" cy="189" r="2.35" fill="url(#scentg)"/>
<path d="M616.3,201.6 Q622.3,197.71 623.38,190.7" stroke="#3d5ca8" stroke-width="4.5" fill="none" stroke-linecap="round"/><path d="M616.3,201.6 Q622.3,197.71 623.38,190.7" stroke="#7590cc" stroke-width="1.4" fill="none" stroke-linecap="round" opacity="0.5"/><path d="M616.3,201.6 Q622.3,205.49 623.38,212.5" stroke="#3d5ca8" stroke-width="4.5" fill="none" stroke-linecap="round"/><path d="M616.3,201.6 Q622.3,205.49 623.38,212.5" stroke="#7590cc" stroke-width="1.4" fill="none" stroke-linecap="round" opacity="0.5"/>
<circle cx="616.3" cy="201.6" r="2.35" fill="url(#scentg)"/>
<path d="M622.3,224.2 Q628.3,220.31 629.38,213.3" stroke="#3d5ca8" stroke-width="4.5" fill="none" stroke-linecap="round"/><path d="M622.3,224.2 Q628.3,220.31 629.38,213.3" stroke="#7590cc" stroke-width="1.4" fill="none" stroke-linecap="round" opacity="0.5"/><path d="M622.3,224.2 Q628.3,228.09 629.38,235.1" stroke="#3d5ca8" stroke-width="4.5" fill="none" stroke-linecap="round"/><path d="M622.3,224.2 Q628.3,228.09 629.38,235.1" stroke="#7590cc" stroke-width="1.4" fill="none" stroke-linecap="round" opacity="0.5"/>
<circle cx="622.3" cy="224.2" r="2.35" fill="url(#scentg)"/>
<path d="M612.9,227.6 Q612.2,238 607.5,248.6 M617.1,228.6 Q613.4,238.6 611.7,249.8" stroke="#3d5ca8" stroke-width="3.4" fill="none" stroke-linecap="round"/>
<path d="M612.9,227.6 Q612.2,238 607.5,248.6 M617.1,228.6 Q613.4,238.6 611.7,249.8" stroke="#7590cc" stroke-width="1.1" fill="none" stroke-linecap="round" opacity="0.45"/>
<circle cx="610.6" cy="237.3" r="2.1" fill="url(#scentg)"/>
<circle cx="614.3" cy="237.6" r="2.1" fill="url(#scentg)"/>
<ellipse cx="701.8" cy="212.9" rx="29.8" ry="40.6" fill="url(#scellg)" stroke="#3b3b3b" stroke-width="0.9" transform="rotate(0 701.8 212.9)"/>
<line x1="713.16" y1="206.31" x2="698.6" y2="187.8" stroke="#2e2e2e" stroke-width="0.85"/>
<line x1="710.63" y1="210.01" x2="685.7" y2="202.4" stroke="#2e2e2e" stroke-width="0.85"/>
<line x1="711.04" y1="215.44" x2="690.9" y2="225.1" stroke="#2e2e2e" stroke-width="0.85"/>
<line x1="714.17" y1="218.76" x2="703.8" y2="237.5" stroke="#2e2e2e" stroke-width="0.85"/>
<circle cx="717.8" cy="212.2" r="8.6" fill="url(#glowg)"/>
<g transform="translate(717.8 212.2) scale(-1 1)"><rect x="-2.0" y="-3.6" width="7.2" height="3.2" rx="1" fill="#4db5b5" transform="rotate(32)"/><rect x="-4.6" y="0.1" width="5.8" height="3.0" rx="1" fill="#e4f3f6" stroke="#9fd6da" stroke-width="0.5" transform="rotate(-38)"/></g>
<path d="M698.6,187.8 Q692.6,191.69 691.52,198.7" stroke="#3d5ca8" stroke-width="4.5" fill="none" stroke-linecap="round"/><path d="M698.6,187.8 Q692.6,191.69 691.52,198.7" stroke="#7590cc" stroke-width="1.4" fill="none" stroke-linecap="round" opacity="0.5"/><path d="M698.6,187.8 Q692.6,183.91 691.52,176.9" stroke="#3d5ca8" stroke-width="4.5" fill="none" stroke-linecap="round"/><path d="M698.6,187.8 Q692.6,183.91 691.52,176.9" stroke="#7590cc" stroke-width="1.4" fill="none" stroke-linecap="round" opacity="0.5"/>
<circle cx="698.6" cy="187.8" r="2.35" fill="url(#scentg)"/>
<path d="M685.7,202.4 Q679.7,206.29 678.62,213.3" stroke="#3d5ca8" stroke-width="4.5" fill="none" stroke-linecap="round"/><path d="M685.7,202.4 Q679.7,206.29 678.62,213.3" stroke="#7590cc" stroke-width="1.4" fill="none" stroke-linecap="round" opacity="0.5"/><path d="M685.7,202.4 Q679.7,198.51 678.62,191.5" stroke="#3d5ca8" stroke-width="4.5" fill="none" stroke-linecap="round"/><path d="M685.7,202.4 Q679.7,198.51 678.62,191.5" stroke="#7590cc" stroke-width="1.4" fill="none" stroke-linecap="round" opacity="0.5"/>
<circle cx="685.7" cy="202.4" r="2.35" fill="url(#scentg)"/>
<path d="M690.9,225.1 Q684.9,228.99 683.82,236" stroke="#3d5ca8" stroke-width="4.5" fill="none" stroke-linecap="round"/><path d="M690.9,225.1 Q684.9,228.99 683.82,236" stroke="#7590cc" stroke-width="1.4" fill="none" stroke-linecap="round" opacity="0.5"/><path d="M690.9,225.1 Q684.9,221.21 683.82,214.2" stroke="#3d5ca8" stroke-width="4.5" fill="none" stroke-linecap="round"/><path d="M690.9,225.1 Q684.9,221.21 683.82,214.2" stroke="#7590cc" stroke-width="1.4" fill="none" stroke-linecap="round" opacity="0.5"/>
<circle cx="690.9" cy="225.1" r="2.35" fill="url(#scentg)"/>
<path d="M703.8,237.5 Q697.8,241.39 696.72,248.4" stroke="#3d5ca8" stroke-width="4.5" fill="none" stroke-linecap="round"/><path d="M703.8,237.5 Q697.8,241.39 696.72,248.4" stroke="#7590cc" stroke-width="1.4" fill="none" stroke-linecap="round" opacity="0.5"/><path d="M703.8,237.5 Q697.8,233.61 696.72,226.6" stroke="#3d5ca8" stroke-width="4.5" fill="none" stroke-linecap="round"/><path d="M703.8,237.5 Q697.8,233.61 696.72,226.6" stroke="#7590cc" stroke-width="1.4" fill="none" stroke-linecap="round" opacity="0.5"/>
<circle cx="703.8" cy="237.5" r="2.35" fill="url(#scentg)"/>
<ellipse cx="667.4" cy="237.3" rx="10.2" ry="17" fill="url(#scellg)" stroke="#3b3b3b" stroke-width="0.9" transform="rotate(12 667.4 237.3)"/>
<path d="M671.5,237.5 Q665.73,241.24 664.69,247.98" stroke="#3d5ca8" stroke-width="4.5" fill="none" stroke-linecap="round"/><path d="M671.5,237.5 Q665.73,241.24 664.69,247.98" stroke="#7590cc" stroke-width="1.4" fill="none" stroke-linecap="round" opacity="0.5"/><path d="M671.5,237.5 Q665.73,233.76 664.69,227.02" stroke="#3d5ca8" stroke-width="4.5" fill="none" stroke-linecap="round"/><path d="M671.5,237.5 Q665.73,233.76 664.69,227.02" stroke="#7590cc" stroke-width="1.4" fill="none" stroke-linecap="round" opacity="0.5"/>
<circle cx="671.5" cy="237.5" r="2.35" fill="url(#scentg)"/>
<ellipse cx="635.6" cy="298.7" rx="2.74" ry="3.92" fill="url(#markg)"/>
<ellipse cx="657.8" cy="305.9" rx="2.74" ry="3.92" fill="url(#markg)"/>
<ellipse cx="636.6" cy="336.7" rx="2.74" ry="3.92" fill="url(#markg)"/>
<ellipse cx="658.9" cy="343.4" rx="2.74" ry="3.92" fill="url(#markg)"/>
<g><path d="M637,289.8 L637.02,291.19 L637.03,292.58 L637.05,293.98 L637.07,295.38 L637.09,296.78 L637.12,298.18 L637.15,299.59 L637.19,301.01 L637.24,302.44 L637.31,303.88 L637.39,305.33 L637.51,306.79 L637.66,308.27 L637.85,309.76 L638.09,311.27 L638.4,312.8 L638.78,314.34 L639.24,315.89 L639.81,317.46 L640.48,319.03 L641.29,320.6 L642.23,322.16 L643.33,323.71 L644.47,325.06 L649.23,321.34 L648.19,319.91 L647.42,318.67 L646.77,317.45 L646.22,316.24 L645.76,315.03 L645.38,313.81 L645.07,312.58 L644.82,311.34 L644.61,310.08 L644.45,308.81 L644.33,307.52 L644.24,306.21 L644.18,304.89 L644.14,303.56 L644.11,302.21 L644.1,300.86 L644.1,299.49 L644.11,298.12 L644.12,296.74 L644.13,295.36 L644.15,293.97 L644.17,292.58 L644.18,291.19 L644.2,289.8 L644.08,288.87 L643.72,288 L643.15,287.25 L642.4,286.68 L641.53,286.32 L640.6,286.2 L639.67,286.32 L638.8,286.68 L638.05,287.25 L637.48,288 L637.12,288.87Z" fill="url(#cg9)"/><path d="M644.2,349.1 L644.18,348.03 L644.17,346.96 L644.16,345.9 L644.15,344.85 L644.15,343.81 L644.17,342.78 L644.19,341.75 L644.23,340.74 L644.29,339.73 L644.37,338.73 L644.47,337.74 L644.6,336.76 L644.76,335.79 L644.95,334.82 L645.17,333.85 L645.42,332.89 L645.72,331.93 L646.06,330.97 L646.45,330.01 L646.89,329.04 L647.38,328.08 L647.93,327.1 L648.54,326.11 L649.28,324.99 L644.42,321.41 L643.57,322.45 L642.73,323.62 L641.98,324.8 L641.29,325.99 L640.67,327.18 L640.12,328.38 L639.62,329.58 L639.19,330.78 L638.81,331.97 L638.48,333.17 L638.2,334.36 L637.96,335.54 L637.76,336.71 L637.59,337.88 L637.45,339.04 L637.34,340.19 L637.25,341.34 L637.18,342.47 L637.13,343.6 L637.09,344.71 L637.06,345.82 L637.04,346.92 L637.02,348.01 L637,349.1 L637.12,350.03 L637.48,350.9 L638.05,351.65 L638.8,352.22 L639.67,352.58 L640.6,352.7 L641.53,352.58 L642.4,352.22 L643.15,351.65 L643.72,350.9 L644.08,350.03Z" fill="url(#cg9)"/><path d="M649.8,289.8 L649.82,291.19 L649.83,292.58 L649.85,293.97 L649.87,295.36 L649.88,296.74 L649.89,298.12 L649.9,299.49 L649.9,300.86 L649.89,302.21 L649.86,303.56 L649.82,304.89 L649.76,306.21 L649.67,307.52 L649.55,308.81 L649.39,310.08 L649.18,311.34 L648.93,312.58 L648.62,313.81 L648.24,315.03 L647.78,316.24 L647.23,317.45 L646.58,318.67 L645.81,319.91 L644.77,321.34 L649.53,325.06 L650.67,323.71 L651.77,322.16 L652.71,320.6 L653.52,319.03 L654.19,317.46 L654.76,315.89 L655.22,314.34 L655.6,312.8 L655.91,311.27 L656.15,309.76 L656.34,308.27 L656.49,306.79 L656.61,305.33 L656.69,303.88 L656.76,302.44 L656.81,301.01 L656.85,299.59 L656.88,298.18 L656.91,296.78 L656.93,295.38 L656.95,293.98 L656.97,292.58 L656.98,291.19 L657,289.8 L656.88,288.87 L656.52,288 L655.95,287.25 L655.2,286.68 L654.33,286.32 L653.4,286.2 L652.47,286.32 L651.6,286.68 L650.85,287.25 L650.28,288 L649.92,288.87Z" fill="url(#cg10)"/><path d="M657,349.1 L656.98,348.01 L656.96,346.92 L656.94,345.82 L656.91,344.71 L656.87,343.6 L656.82,342.47 L656.75,341.34 L656.66,340.19 L656.55,339.04 L656.41,337.88 L656.24,336.71 L656.04,335.54 L655.8,334.36 L655.52,333.17 L655.19,331.97 L654.81,330.78 L654.38,329.58 L653.88,328.38 L653.33,327.18 L652.71,325.99 L652.02,324.8 L651.27,323.62 L650.43,322.45 L649.58,321.41 L644.72,324.99 L645.46,326.11 L646.07,327.1 L646.62,328.08 L647.11,329.04 L647.55,330.01 L647.94,330.97 L648.28,331.93 L648.58,332.89 L648.83,333.85 L649.05,334.82 L649.24,335.79 L649.4,336.76 L649.53,337.74 L649.63,338.73 L649.71,339.73 L649.77,340.74 L649.81,341.75 L649.83,342.78 L649.85,343.81 L649.85,344.85 L649.84,345.9 L649.83,346.96 L649.82,348.03 L649.8,349.1 L649.92,350.03 L650.28,350.9 L650.85,351.65 L651.6,352.22 L652.47,352.58 L653.4,352.7 L654.33,352.58 L655.2,352.22 L655.95,351.65 L656.52,350.9 L656.88,350.03Z" fill="url(#cg10)"/></g>
<ellipse cx="647" cy="323.2" rx="5.18" ry="4.54" fill="url(#centg)"/>
<g><path d="M642.51,393.74 L643.63,397.34 L640.63,399.63 L639.51,396.03 Z" fill="#9693d3"/><path d="M645.49,394.21 L647.66,396.34 L646.86,399.28 L644.69,397.14 Z" fill="#a5a3dc"/><path d="M649.1,392.93 L652.36,397.32 L648.48,398.37 Z" fill="#9e9bd7"/><path d="M652.86,394.36 L656.39,398 L652.8,399.42 Z" fill="#9693d3"/><path d="M659.52,393.45 L660.04,396.87 L656.87,398.24 L656.35,394.82 Z" fill="#acaae0"/><path d="M662.56,393.99 L665.48,395.79 L664.3,399.01 L661.37,397.21 Z" fill="#9e9bd7"/><path d="M629.49,398.68 L632.57,402.45 L629.56,403.54 Z" fill="#acaae0"/><path d="M635.67,398.73 L636.1,403.96 L633.08,403.29 Z" fill="#b6b4e4"/><path d="M637.73,398.19 L640.39,400.7 L639.89,404.32 L637.23,401.81 Z" fill="#b6b4e4"/><path d="M644.91,397.7 L645.01,403.31 L641.65,402.27 Z" fill="#9693d3"/><path d="M649.38,399.1 L649.55,402.22 L646.91,403.9 L646.73,400.77 Z" fill="#9e9bd7"/><path d="M652,398.48 L653.97,401.12 L651.87,403.65 L649.89,401.01 Z" fill="#b6b4e4"/><path d="M658.2,398.08 L658.35,401.26 L655.71,403.03 L655.56,399.85 Z" fill="#a5a3dc"/><path d="M660.66,399.23 L662.14,404.26 L658.71,404.1 Z" fill="#9693d3"/><path d="M664.62,398.64 L667.52,403.7 L663.91,404.43 Z" fill="#acaae0"/><path d="M668.54,398.11 L671.24,400.63 L670.26,404.19 L667.55,401.67 Z" fill="#9e9bd7"/><path d="M628.4,404.33 L629.72,409.55 L625.64,408.96 Z" fill="#acaae0"/><path d="M634.28,403.79 L634.26,409.15 L631.25,408.22 Z" fill="#9e9bd7"/><path d="M638.45,403.38 L638.63,407.27 L635.17,409.07 L635,405.18 Z" fill="#9e9bd7"/><path d="M640.91,402.88 L644.05,408.08 L640.49,408.94 Z" fill="#acaae0"/><path d="M646.34,403.93 L648.08,408.56 L644.61,408.56 Z" fill="#acaae0"/><path d="M651.42,403.16 L652.47,406.68 L649.61,409 L648.56,405.48 Z" fill="#b6b4e4"/><path d="M653.4,403.59 L655.9,406.21 L654.82,409.66 L652.32,407.05 Z" fill="#b6b4e4"/><path d="M658.29,403.33 L661.22,405.35 L660.19,408.76 L657.26,406.74 Z" fill="#b6b4e4"/><path d="M664.16,403.27 L664.17,409.25 L660.48,407.98 Z" fill="#b6b4e4"/><path d="M667.03,403.67 L669.6,406.5 L668.03,409.98 L665.47,407.15 Z" fill="#b6b4e4"/><path d="M672.24,403.16 L673.75,406.38 L672.04,409.5 L670.52,406.28 Z" fill="#9e9bd7"/><path d="M630.88,407.68 L632.11,410.94 L629.81,413.57 L628.58,410.31 Z" fill="#acaae0"/><path d="M635.57,408.19 L637.21,411.44 L634.79,414.16 L633.16,410.91 Z" fill="#9693d3"/><path d="M639.23,408.36 L640.11,414.11 L636.89,413.69 Z" fill="#9693d3"/><path d="M643.34,409.64 L646.23,411.34 L645.12,414.5 L642.24,412.8 Z" fill="#9e9bd7"/><path d="M647.31,407.57 L649.19,410.49 L647.53,413.54 L645.66,410.62 Z" fill="#a5a3dc"/><path d="M651.96,407.95 L654.6,410.76 L652.95,414.24 L650.32,411.44 Z" fill="#acaae0"/><path d="M656.62,407.64 L657.55,413.08 L654.44,412.7 Z" fill="#acaae0"/><path d="M659.34,408.33 L662.11,410.39 L661.58,413.79 L658.81,411.74 Z" fill="#9e9bd7"/><path d="M664.77,408.19 L666.71,411.6 L664.33,414.72 L662.38,411.31 Z" fill="#b6b4e4"/><path d="M669.4,408.35 L671.51,411.35 L670.2,414.77 L668.08,411.77 Z" fill="#b6b4e4"/><path d="M641.23,414.27 L643.65,418.82 L640.07,419.29 Z" fill="#9e9bd7"/><path d="M644.46,413.97 L648.2,418.52 L644.61,419.86 Z" fill="#b6b4e4"/><path d="M651.21,413.63 L651.49,416.91 L648.56,418.4 L648.27,415.11 Z" fill="#9693d3"/><path d="M653.84,414.52 L656,416.63 L655.21,419.55 L653.05,417.44 Z" fill="#9e9bd7"/><path d="M659.83,413.52 L659.53,418.78 L655.86,416.97 Z" fill="#a5a3dc"/><path d="M663.19,413.04 L665.4,415.94 L663.23,418.87 L661.02,415.97 Z" fill="#9693d3"/></g>
<text x="654.9" y="431" font-size="10.4" font-weight="normal" fill="#231f20" text-anchor="middle" font-family="Liberation Sans, sans-serif" >Cdh1 Degradation</text>
<ellipse cx="433.8" cy="413.9" rx="22.4" ry="11" fill="url(#cdhg)"/>
<ellipse cx="390.5" cy="412.7" rx="25.1" ry="16.4" fill="url(#apcg)"/>
<text x="390.2" y="409.8" font-size="9.5" font-weight="normal" fill="#231f20" text-anchor="middle" font-family="Liberation Sans, sans-serif" >APC/C</text>
<text x="390.3" y="421.1" font-size="9.5" font-weight="normal" fill="#231f20" text-anchor="middle" font-family="Liberation Sans, sans-serif" >active</text>
<text x="431.8" y="416.7" font-size="9.5" font-weight="normal" fill="#231f20" text-anchor="middle" font-family="Liberation Sans, sans-serif" >Cdh1</text>
<text x="541.9" y="402.8" font-size="10.4" font-weight="normal" fill="#231f20" text-anchor="middle" font-family="Liberation Sans, sans-serif" >(+)-6-Br-JP18</text>
<line x1="489" y1="411.1" x2="592.62" y2="411.1" stroke="#f7941d" stroke-width="2"/>
<path d="M597.6,411.1 L589.3,414.4 L590.96,411.1 L589.3,407.8 Z" fill="#f7941d"/>
<ellipse cx="318.6" cy="442.4" rx="4.44" ry="6.36" fill="url(#markg)"/>
<ellipse cx="356.4" cy="455.6" rx="4.44" ry="6.36" fill="url(#markg)"/>
<ellipse cx="319.3" cy="508.7" rx="4.44" ry="6.36" fill="url(#markg)"/>
<ellipse cx="357.8" cy="520.6" rx="4.44" ry="6.36" fill="url(#markg)"/>
<g><path d="M320.85,425.7 L320.87,428.18 L320.89,430.65 L320.91,433.13 L320.93,435.6 L320.96,438.08 L320.98,440.57 L321.01,443.06 L321.05,445.55 L321.1,448.06 L321.16,450.59 L321.24,453.13 L321.36,455.7 L321.52,458.3 L321.75,460.93 L322.05,463.6 L322.46,466.31 L323,469.07 L323.7,471.87 L324.62,474.72 L325.79,477.59 L327.25,480.48 L329.05,483.36 L331.23,486.21 L333.5,488.63 L341.4,481.57 L339.25,479.04 L337.79,476.94 L336.62,474.87 L335.69,472.81 L334.94,470.73 L334.35,468.63 L333.88,466.48 L333.52,464.29 L333.25,462.05 L333.05,459.77 L332.9,457.45 L332.81,455.1 L332.75,452.72 L332.71,450.31 L332.7,447.89 L332.7,445.45 L332.71,442.99 L332.73,440.53 L332.75,438.07 L332.77,435.6 L332.79,433.12 L332.81,430.65 L332.83,428.17 L332.85,425.7 L332.65,424.15 L332.05,422.7 L331.09,421.46 L329.85,420.5 L328.4,419.9 L326.85,419.7 L325.3,419.9 L323.85,420.5 L322.61,421.46 L321.65,422.7 L321.05,424.15Z" fill="url(#cg11)"/><path d="M332.85,532.52 L332.83,530.59 L332.83,528.69 L332.86,526.79 L332.9,524.9 L332.98,523.03 L333.08,521.15 L333.22,519.29 L333.39,517.43 L333.6,515.57 L333.85,513.71 L334.13,511.86 L334.46,510.01 L334.83,508.16 L335.25,506.31 L335.71,504.45 L336.22,502.6 L336.77,500.75 L337.38,498.89 L338.04,497.04 L338.74,495.17 L339.51,493.31 L340.32,491.44 L341.19,489.56 L342.15,487.55 L332.75,482.65 L331.65,484.59 L330.58,486.66 L329.58,488.74 L328.64,490.83 L327.77,492.91 L326.95,495.01 L326.19,497.1 L325.5,499.2 L324.85,501.3 L324.27,503.39 L323.74,505.49 L323.26,507.59 L322.83,509.69 L322.45,511.79 L322.11,513.88 L321.83,515.97 L321.58,518.06 L321.38,520.15 L321.21,522.22 L321.09,524.3 L320.99,526.36 L320.92,528.41 L320.88,530.46 L320.85,532.48 L321.05,534.04 L321.65,535.49 L322.6,536.73 L323.84,537.69 L325.28,538.29 L326.83,538.5 L328.39,538.3 L329.84,537.7 L331.08,536.75 L332.04,535.51 L332.64,534.07Z" fill="url(#cg11)"/><path d="M342.35,425.7 L342.37,428.17 L342.39,430.65 L342.41,433.12 L342.43,435.6 L342.45,438.07 L342.47,440.53 L342.49,442.99 L342.5,445.45 L342.5,447.89 L342.49,450.31 L342.45,452.72 L342.39,455.1 L342.3,457.45 L342.15,459.77 L341.95,462.05 L341.68,464.29 L341.32,466.48 L340.85,468.63 L340.26,470.73 L339.51,472.81 L338.58,474.87 L337.41,476.94 L335.95,479.04 L333.8,481.57 L341.7,488.63 L343.97,486.21 L346.15,483.36 L347.95,480.48 L349.41,477.59 L350.58,474.72 L351.5,471.87 L352.2,469.07 L352.74,466.31 L353.15,463.6 L353.45,460.93 L353.68,458.3 L353.84,455.7 L353.96,453.13 L354.04,450.59 L354.1,448.06 L354.15,445.55 L354.19,443.06 L354.22,440.57 L354.24,438.08 L354.27,435.6 L354.29,433.13 L354.31,430.65 L354.33,428.18 L354.35,425.7 L354.15,424.15 L353.55,422.7 L352.59,421.46 L351.35,420.5 L349.9,419.9 L348.35,419.7 L346.8,419.9 L345.35,420.5 L344.11,421.46 L343.15,422.7 L342.55,424.15Z" fill="url(#cg12)"/><path d="M354.35,532.48 L354.32,530.46 L354.28,528.41 L354.21,526.36 L354.11,524.3 L353.99,522.22 L353.82,520.15 L353.62,518.06 L353.37,515.97 L353.09,513.88 L352.75,511.79 L352.37,509.69 L351.94,507.59 L351.46,505.49 L350.93,503.39 L350.35,501.3 L349.7,499.2 L349.01,497.1 L348.25,495.01 L347.43,492.91 L346.56,490.83 L345.62,488.74 L344.62,486.66 L343.55,484.59 L342.45,482.65 L333.05,487.55 L334.01,489.56 L334.88,491.44 L335.69,493.31 L336.46,495.17 L337.16,497.04 L337.82,498.89 L338.43,500.75 L338.98,502.6 L339.49,504.45 L339.95,506.31 L340.37,508.16 L340.74,510.01 L341.07,511.86 L341.35,513.71 L341.6,515.57 L341.81,517.43 L341.98,519.29 L342.12,521.15 L342.22,523.03 L342.3,524.9 L342.34,526.79 L342.37,528.69 L342.37,530.59 L342.35,532.52 L342.56,534.07 L343.16,535.51 L344.12,536.75 L345.36,537.7 L346.81,538.3 L348.37,538.5 L349.92,538.29 L351.36,537.69 L352.6,536.73 L353.55,535.49 L354.15,534.04Z" fill="url(#cg12)"/></g>
<ellipse cx="337.6" cy="485.1" rx="9.6" ry="7.6" fill="url(#centg)"/>
<path d="M363.4,456.8 C378,436 425,424 446,451" stroke="#231f20" stroke-width="1.25" fill="none"/>
<path d="M449.5,457.5 L442,452 L446,450.5 L447.5,447 Z" fill="#231f20"/>
<g><ellipse cx="449" cy="509.5" rx="15" ry="6.5" fill="#a23a58"/><rect x="435.2" y="482" width="27.6" height="24" fill="#a9d3b4"/><circle cx="437.5" cy="504.5" r="3.6" fill="url(#maroonb)"/><circle cx="443.5" cy="503.8" r="3.6" fill="url(#maroonb)"/><circle cx="449.5" cy="503.6" r="3.6" fill="url(#maroonb)"/><circle cx="455.5" cy="503.8" r="3.6" fill="url(#maroonb)"/><circle cx="461.5" cy="504.5" r="3.6" fill="url(#maroonb)"/><circle cx="437.6" cy="484.2" r="2.75" fill="url(#lavb)"/><circle cx="442.35" cy="484.2" r="2.75" fill="url(#lavb)"/><circle cx="447.1" cy="484.2" r="2.75" fill="url(#lavb)"/><circle cx="451.85" cy="484.2" r="2.75" fill="url(#lavb)"/><circle cx="456.6" cy="484.2" r="2.75" fill="url(#lavb)"/><circle cx="461.35" cy="484.2" r="2.75" fill="url(#lavb)"/><circle cx="437.6" cy="487.65" r="2.75" fill="url(#greenb)"/><circle cx="442.35" cy="487.65" r="2.75" fill="url(#cyanb)"/><circle cx="447.1" cy="487.65" r="2.75" fill="url(#greenb)"/><circle cx="451.85" cy="487.65" r="2.75" fill="url(#greenb)"/><circle cx="456.6" cy="487.65" r="2.75" fill="url(#greenb)"/><circle cx="461.35" cy="487.65" r="2.75" fill="url(#orangeb)"/><circle cx="437.6" cy="491.1" r="2.75" fill="url(#cyanb)"/><circle cx="442.35" cy="491.1" r="2.75" fill="url(#greenb)"/><circle cx="447.1" cy="491.1" r="2.75" fill="url(#cyanb)"/><circle cx="451.85" cy="491.1" r="2.75" fill="url(#cyanb)"/><circle cx="456.6" cy="491.1" r="2.75" fill="url(#orangeb)"/><circle cx="461.35" cy="491.1" r="2.75" fill="url(#cyanb)"/><circle cx="437.6" cy="494.55" r="2.75" fill="url(#orangeb)"/><circle cx="442.35" cy="494.55" r="2.75" fill="url(#cyanb)"/><circle cx="447.1" cy="494.55" r="2.75" fill="url(#cyanb)"/><circle cx="451.85" cy="494.55" r="2.75" fill="url(#cyanb)"/><circle cx="456.6" cy="494.55" r="2.75" fill="url(#cyanb)"/><circle cx="461.35" cy="494.55" r="2.75" fill="url(#greenb)"/><circle cx="437.6" cy="498" r="2.75" fill="url(#greenb)"/><circle cx="442.35" cy="498" r="2.75" fill="url(#orangeb)"/><circle cx="447.1" cy="498" r="2.75" fill="url(#cyanb)"/><circle cx="451.85" cy="498" r="2.75" fill="url(#greenb)"/><circle cx="456.6" cy="498" r="2.75" fill="url(#greenb)"/><circle cx="461.35" cy="498" r="2.75" fill="url(#greenb)"/><circle cx="437.6" cy="501.45" r="2.75" fill="url(#greenb)"/><circle cx="442.35" cy="501.45" r="2.75" fill="url(#greenb)"/><circle cx="447.1" cy="501.45" r="2.75" fill="url(#greenb)"/><circle cx="451.85" cy="501.45" r="2.75" fill="url(#greenb)"/><circle cx="456.6" cy="501.45" r="2.75" fill="url(#greenb)"/><circle cx="461.35" cy="501.45" r="2.75" fill="url(#greenb)"/><circle cx="437.6" cy="504.9" r="2.75" fill="url(#lavb)"/><circle cx="442.35" cy="504.9" r="2.75" fill="url(#lavb)"/><circle cx="447.1" cy="504.9" r="2.75" fill="url(#lavb)"/><circle cx="451.85" cy="504.9" r="2.75" fill="url(#lavb)"/><circle cx="456.6" cy="504.9" r="2.75" fill="url(#lavb)"/><circle cx="461.35" cy="504.9" r="2.75" fill="url(#lavb)"/><circle cx="434.5" cy="508.5" r="3.6" fill="url(#maroonb)"/><circle cx="463.5" cy="508.5" r="3.6" fill="url(#maroonb)"/><circle cx="442" cy="509.5" r="4.1" fill="url(#maroonb)"/><circle cx="449" cy="510.2" r="4.3" fill="url(#maroonb)"/><circle cx="456" cy="509.5" r="4.1" fill="url(#maroonb)"/><circle cx="438.5" cy="513.6" r="3.4" fill="url(#maroonb)"/><circle cx="445" cy="514.4" r="3.6" fill="url(#maroonb)"/><circle cx="452.5" cy="514.4" r="3.6" fill="url(#maroonb)"/><circle cx="459.5" cy="513.6" r="3.4" fill="url(#maroonb)"/><ellipse cx="449" cy="475" rx="15" ry="8" fill="#a23a58"/><circle cx="437.5" cy="470.3" r="3.7" fill="url(#maroonb)"/><circle cx="443" cy="467.9" r="3.7" fill="url(#maroonb)"/><circle cx="449" cy="467.2" r="3.8" fill="url(#maroonb)"/><circle cx="455" cy="467.9" r="3.7" fill="url(#maroonb)"/><circle cx="460.5" cy="470.3" r="3.7" fill="url(#maroonb)"/><circle cx="434.2" cy="475.5" r="3.7" fill="url(#maroonb)"/><circle cx="463.8" cy="475.5" r="3.7" fill="url(#maroonb)"/><circle cx="442" cy="476" r="4.2" fill="url(#maroonb)"/><circle cx="449" cy="476.8" r="4.4" fill="url(#maroonb)"/><circle cx="456" cy="476" r="4.2" fill="url(#maroonb)"/><circle cx="438.5" cy="481.5" r="3.4" fill="url(#maroonb)"/><circle cx="445" cy="482.3" r="3.6" fill="url(#maroonb)"/><circle cx="452.5" cy="482.3" r="3.6" fill="url(#maroonb)"/><circle cx="459.5" cy="481.5" r="3.4" fill="url(#maroonb)"/></g>
<line x1="475" y1="487.6" x2="525.1" y2="487.6" stroke="#2a2526" stroke-width="1.25"/>
<path d="M530.1,487.6 L521.6,484.2 L523.9,487.6 L521.6,491 Z" fill="#2a2526"/>
<g><path d="M540.15,460.9 L540.17,462.34 L540.19,463.78 L540.2,465.22 L540.22,466.66 L540.24,468.1 L540.27,469.55 L540.3,471.01 L540.34,472.48 L540.39,473.95 L540.46,475.43 L540.55,476.92 L540.66,478.43 L540.8,479.95 L540.99,481.49 L541.23,483.04 L541.53,484.61 L541.9,486.19 L542.35,487.79 L542.9,489.4 L543.56,491.02 L544.34,492.63 L545.26,494.25 L546.34,495.85 L547.45,497.25 L552.45,493.55 L551.44,492.08 L550.68,490.8 L550.05,489.54 L549.51,488.28 L549.07,487.02 L548.7,485.76 L548.39,484.48 L548.14,483.19 L547.94,481.88 L547.79,480.56 L547.67,479.22 L547.58,477.87 L547.52,476.5 L547.48,475.12 L547.46,473.73 L547.45,472.32 L547.45,470.91 L547.45,469.5 L547.47,468.07 L547.48,466.64 L547.5,465.21 L547.52,463.77 L547.53,462.34 L547.55,460.9 L547.42,459.94 L547.05,459.05 L546.47,458.28 L545.7,457.7 L544.81,457.33 L543.85,457.2 L542.89,457.33 L542,457.7 L541.23,458.28 L540.65,459.05 L540.28,459.94Z" fill="url(#cg13)"/><path d="M547.55,521.6 L547.53,520.52 L547.52,519.44 L547.51,518.38 L547.51,517.32 L547.51,516.27 L547.53,515.23 L547.57,514.2 L547.62,513.18 L547.68,512.16 L547.77,511.15 L547.89,510.15 L548.02,509.15 L548.19,508.15 L548.38,507.16 L548.61,506.18 L548.87,505.19 L549.17,504.21 L549.5,503.23 L549.88,502.24 L550.3,501.25 L550.77,500.26 L551.29,499.26 L551.85,498.26 L552.53,497.13 L547.37,493.67 L546.58,494.73 L545.81,495.9 L545.11,497.09 L544.46,498.28 L543.88,499.47 L543.35,500.67 L542.87,501.87 L542.45,503.07 L542.07,504.27 L541.74,505.47 L541.45,506.66 L541.2,507.85 L540.99,509.04 L540.81,510.22 L540.66,511.39 L540.54,512.56 L540.44,513.71 L540.36,514.87 L540.3,516.01 L540.25,517.14 L540.22,518.27 L540.19,519.39 L540.17,520.5 L540.15,521.6 L540.28,522.56 L540.64,523.45 L541.23,524.22 L542,524.8 L542.89,525.17 L543.85,525.3 L544.81,525.17 L545.7,524.81 L546.47,524.22 L547.05,523.45 L547.42,522.56Z" fill="url(#cg13)"/><path d="M552.65,460.9 L552.67,462.34 L552.68,463.77 L552.7,465.21 L552.72,466.64 L552.73,468.07 L552.75,469.5 L552.75,470.91 L552.75,472.32 L552.74,473.73 L552.72,475.12 L552.68,476.5 L552.62,477.87 L552.53,479.22 L552.41,480.56 L552.26,481.88 L552.06,483.19 L551.81,484.48 L551.5,485.76 L551.13,487.02 L550.69,488.28 L550.15,489.54 L549.52,490.8 L548.76,492.08 L547.75,493.55 L552.75,497.25 L553.86,495.85 L554.94,494.25 L555.86,492.63 L556.64,491.02 L557.3,489.4 L557.85,487.79 L558.3,486.19 L558.67,484.61 L558.97,483.04 L559.21,481.49 L559.4,479.95 L559.54,478.43 L559.65,476.92 L559.74,475.43 L559.81,473.95 L559.86,472.48 L559.9,471.01 L559.93,469.55 L559.96,468.1 L559.98,466.66 L560,465.22 L560.01,463.78 L560.03,462.34 L560.05,460.9 L559.92,459.94 L559.55,459.05 L558.97,458.28 L558.2,457.7 L557.31,457.33 L556.35,457.2 L555.39,457.33 L554.5,457.7 L553.73,458.28 L553.15,459.05 L552.78,459.94Z" fill="url(#cg14)"/><path d="M560.05,521.6 L560.03,520.5 L560.01,519.39 L559.98,518.27 L559.95,517.14 L559.9,516.01 L559.84,514.87 L559.76,513.71 L559.66,512.56 L559.54,511.39 L559.39,510.22 L559.21,509.04 L559,507.85 L558.75,506.66 L558.46,505.47 L558.13,504.27 L557.75,503.07 L557.33,501.87 L556.85,500.67 L556.32,499.47 L555.74,498.28 L555.09,497.09 L554.39,495.9 L553.62,494.73 L552.83,493.67 L547.67,497.13 L548.35,498.26 L548.91,499.26 L549.43,500.26 L549.9,501.25 L550.32,502.24 L550.7,503.23 L551.03,504.21 L551.33,505.19 L551.59,506.18 L551.82,507.16 L552.01,508.15 L552.18,509.15 L552.31,510.15 L552.43,511.15 L552.52,512.16 L552.58,513.18 L552.63,514.2 L552.67,515.23 L552.69,516.27 L552.69,517.32 L552.69,518.38 L552.68,519.44 L552.67,520.52 L552.65,521.6 L552.78,522.56 L553.15,523.45 L553.73,524.22 L554.5,524.81 L555.39,525.17 L556.35,525.3 L557.31,525.17 L558.2,524.8 L558.97,524.22 L559.56,523.45 L559.92,522.56Z" fill="url(#cg14)"/></g>
<ellipse cx="550.1" cy="495.4" rx="5.33" ry="4.66" fill="url(#centg)"/>
<line x1="572.1" y1="488.3" x2="622.2" y2="488.3" stroke="#2a2526" stroke-width="1.25"/>
<path d="M627.2,488.3 L618.7,484.9 L621,488.3 L618.7,491.7 Z" fill="#2a2526"/>
<ellipse cx="669.8" cy="484.7" rx="29.6" ry="40.2" fill="url(#scellg)" stroke="#3b3b3b" stroke-width="0.9" transform="rotate(0 669.8 484.7)"/>
<line x1="657.27" y1="478.7" x2="667.4" y2="460" stroke="#2e2e2e" stroke-width="0.85"/>
<line x1="660.47" y1="482.07" x2="680.1" y2="472.7" stroke="#2e2e2e" stroke-width="0.85"/>
<line x1="660.85" y1="487.56" x2="685.4" y2="495.3" stroke="#2e2e2e" stroke-width="0.85"/>
<line x1="658.38" y1="491.16" x2="673" y2="509.5" stroke="#2e2e2e" stroke-width="0.85"/>
<circle cx="653.7" cy="485.3" r="8.6" fill="url(#glowg)"/>
<g transform="translate(653.7 485.3) scale(1 1)"><rect x="-2.0" y="-3.6" width="7.2" height="3.2" rx="1" fill="#4db5b5" transform="rotate(32)"/><rect x="-4.6" y="0.1" width="5.8" height="3.0" rx="1" fill="#e4f3f6" stroke="#9fd6da" stroke-width="0.5" transform="rotate(-38)"/></g>
<path d="M667.4,460 Q673.4,456.11 674.48,449.1" stroke="#3d5ca8" stroke-width="4.5" fill="none" stroke-linecap="round"/><path d="M667.4,460 Q673.4,456.11 674.48,449.1" stroke="#7590cc" stroke-width="1.4" fill="none" stroke-linecap="round" opacity="0.5"/><path d="M667.4,460 Q673.4,463.89 674.48,470.9" stroke="#3d5ca8" stroke-width="4.5" fill="none" stroke-linecap="round"/><path d="M667.4,460 Q673.4,463.89 674.48,470.9" stroke="#7590cc" stroke-width="1.4" fill="none" stroke-linecap="round" opacity="0.5"/>
<circle cx="667.4" cy="460" r="2.35" fill="url(#scentg)"/>
<path d="M680.1,472.7 Q686.1,468.81 687.18,461.8" stroke="#3d5ca8" stroke-width="4.5" fill="none" stroke-linecap="round"/><path d="M680.1,472.7 Q686.1,468.81 687.18,461.8" stroke="#7590cc" stroke-width="1.4" fill="none" stroke-linecap="round" opacity="0.5"/><path d="M680.1,472.7 Q686.1,476.59 687.18,483.6" stroke="#3d5ca8" stroke-width="4.5" fill="none" stroke-linecap="round"/><path d="M680.1,472.7 Q686.1,476.59 687.18,483.6" stroke="#7590cc" stroke-width="1.4" fill="none" stroke-linecap="round" opacity="0.5"/>
<circle cx="680.1" cy="472.7" r="2.35" fill="url(#scentg)"/>
<path d="M685.4,495.3 Q691.4,491.41 692.48,484.4" stroke="#3d5ca8" stroke-width="4.5" fill="none" stroke-linecap="round"/><path d="M685.4,495.3 Q691.4,491.41 692.48,484.4" stroke="#7590cc" stroke-width="1.4" fill="none" stroke-linecap="round" opacity="0.5"/><path d="M685.4,495.3 Q691.4,499.19 692.48,506.2" stroke="#3d5ca8" stroke-width="4.5" fill="none" stroke-linecap="round"/><path d="M685.4,495.3 Q691.4,499.19 692.48,506.2" stroke="#7590cc" stroke-width="1.4" fill="none" stroke-linecap="round" opacity="0.5"/>
<circle cx="685.4" cy="495.3" r="2.35" fill="url(#scentg)"/>
<path d="M673,509.5 Q679,505.61 680.08,498.6" stroke="#3d5ca8" stroke-width="4.5" fill="none" stroke-linecap="round"/><path d="M673,509.5 Q679,505.61 680.08,498.6" stroke="#7590cc" stroke-width="1.4" fill="none" stroke-linecap="round" opacity="0.5"/><path d="M673,509.5 Q679,513.39 680.08,520.4" stroke="#3d5ca8" stroke-width="4.5" fill="none" stroke-linecap="round"/><path d="M673,509.5 Q679,513.39 680.08,520.4" stroke="#7590cc" stroke-width="1.4" fill="none" stroke-linecap="round" opacity="0.5"/>
<circle cx="673" cy="509.5" r="2.35" fill="url(#scentg)"/>
<ellipse cx="749.9" cy="484.7" rx="29.9" ry="40.2" fill="url(#scellg)" stroke="#3b3b3b" stroke-width="0.9" transform="rotate(0 749.9 484.7)"/>
<line x1="760.75" y1="478.81" x2="745.9" y2="460" stroke="#2e2e2e" stroke-width="0.85"/>
<line x1="758.28" y1="482.35" x2="733.2" y2="474.1" stroke="#2e2e2e" stroke-width="0.85"/>
<line x1="758.56" y1="487.78" x2="738.5" y2="496.8" stroke="#2e2e2e" stroke-width="0.85"/>
<line x1="761.62" y1="491.18" x2="751.2" y2="509" stroke="#2e2e2e" stroke-width="0.85"/>
<circle cx="765.4" cy="484.7" r="8.6" fill="url(#glowg)"/>
<g transform="translate(765.4 484.7) scale(-1 1)"><rect x="-2.0" y="-3.6" width="7.2" height="3.2" rx="1" fill="#4db5b5" transform="rotate(32)"/><rect x="-4.6" y="0.1" width="5.8" height="3.0" rx="1" fill="#e4f3f6" stroke="#9fd6da" stroke-width="0.5" transform="rotate(-38)"/></g>
<path d="M745.9,460 Q739.9,463.89 738.82,470.9" stroke="#3d5ca8" stroke-width="4.5" fill="none" stroke-linecap="round"/><path d="M745.9,460 Q739.9,463.89 738.82,470.9" stroke="#7590cc" stroke-width="1.4" fill="none" stroke-linecap="round" opacity="0.5"/><path d="M745.9,460 Q739.9,456.11 738.82,449.1" stroke="#3d5ca8" stroke-width="4.5" fill="none" stroke-linecap="round"/><path d="M745.9,460 Q739.9,456.11 738.82,449.1" stroke="#7590cc" stroke-width="1.4" fill="none" stroke-linecap="round" opacity="0.5"/>
<circle cx="745.9" cy="460" r="2.35" fill="url(#scentg)"/>
<path d="M733.2,474.1 Q727.2,477.99 726.12,485" stroke="#3d5ca8" stroke-width="4.5" fill="none" stroke-linecap="round"/><path d="M733.2,474.1 Q727.2,477.99 726.12,485" stroke="#7590cc" stroke-width="1.4" fill="none" stroke-linecap="round" opacity="0.5"/><path d="M733.2,474.1 Q727.2,470.21 726.12,463.2" stroke="#3d5ca8" stroke-width="4.5" fill="none" stroke-linecap="round"/><path d="M733.2,474.1 Q727.2,470.21 726.12,463.2" stroke="#7590cc" stroke-width="1.4" fill="none" stroke-linecap="round" opacity="0.5"/>
<circle cx="733.2" cy="474.1" r="2.35" fill="url(#scentg)"/>
<path d="M738.5,496.8 Q732.5,500.69 731.42,507.7" stroke="#3d5ca8" stroke-width="4.5" fill="none" stroke-linecap="round"/><path d="M738.5,496.8 Q732.5,500.69 731.42,507.7" stroke="#7590cc" stroke-width="1.4" fill="none" stroke-linecap="round" opacity="0.5"/><path d="M738.5,496.8 Q732.5,492.91 731.42,485.9" stroke="#3d5ca8" stroke-width="4.5" fill="none" stroke-linecap="round"/><path d="M738.5,496.8 Q732.5,492.91 731.42,485.9" stroke="#7590cc" stroke-width="1.4" fill="none" stroke-linecap="round" opacity="0.5"/>
<circle cx="738.5" cy="496.8" r="2.35" fill="url(#scentg)"/>
<path d="M751.2,509 Q745.2,512.89 744.12,519.9" stroke="#3d5ca8" stroke-width="4.5" fill="none" stroke-linecap="round"/><path d="M751.2,509 Q745.2,512.89 744.12,519.9" stroke="#7590cc" stroke-width="1.4" fill="none" stroke-linecap="round" opacity="0.5"/><path d="M751.2,509 Q745.2,505.11 744.12,498.1" stroke="#3d5ca8" stroke-width="4.5" fill="none" stroke-linecap="round"/><path d="M751.2,509 Q745.2,505.11 744.12,498.1" stroke="#7590cc" stroke-width="1.4" fill="none" stroke-linecap="round" opacity="0.5"/>
<circle cx="751.2" cy="509" r="2.35" fill="url(#scentg)"/>
<text x="708" y="542.9" font-size="13" font-weight="bold" fill="#111" text-anchor="middle" font-family="Liberation Sans, sans-serif" >Cell proliferation</text>
<circle cx="24" cy="444.5" r="5" fill="url(#pinkB)"/>
<circle cx="24" cy="458.5" r="5" fill="url(#blueB)"/>
<path d="M17.8,475 A6.1,5.8 0 0 1 30,475 Z" fill="url(#markg)"/>
<ellipse cx="23.8" cy="486.1" rx="4.75" ry="7.1" fill="url(#centg)"/>
<path d="M24,499.5 L28.5,504.9 L19.4,504.9 Z" fill="#f05a22"/>
<rect x="23.4" y="511.5" width="2" height="5.5" fill="#bfe6ea"/>
<rect x="20" y="517.6" width="8.5" height="3.8" rx="1" fill="#6cc6c8"/>
<g transform="translate(24.5 534.6)"><rect x="-4.3" y="-6.6" width="8.6" height="13.2" rx="3" fill="#a23c55"/><rect x="-3.6" y="-2.6" width="7.2" height="5.2" fill="#5fb9c0"/><rect x="-3.6" y="-0.6" width="7.2" height="1.3" fill="#9ccf8a"/></g>
<text x="50.2" y="446.9" font-size="8.5" font-weight="normal" fill="#231f20" text-anchor="start" font-family="Liberation Sans, sans-serif" >&#945;-Tubulin</text>
<text x="50.2" y="461" font-size="8.5" font-weight="normal" fill="#231f20" text-anchor="start" font-family="Liberation Sans, sans-serif" >&#946;-Tubulin</text>
<text x="51" y="475.7" font-size="8.5" font-weight="normal" fill="#231f20" text-anchor="start" font-family="Liberation Sans, sans-serif" >Ectopic CENP-A</text>
<text x="50.2" y="490.5" font-size="8.5" font-weight="normal" fill="#231f20" text-anchor="start" font-family="Liberation Sans, sans-serif" >Centromere</text>
<text x="51.7" y="506.5" font-size="8.5" font-weight="normal" fill="#231f20" text-anchor="start" font-family="Liberation Sans, sans-serif" >(+)-6-Br-JP18</text>
<text x="50.2" y="521.8" font-size="8.5" font-weight="normal" fill="#231f20" text-anchor="start" font-family="Liberation Sans, sans-serif" >Centriole</text>
<text x="51" y="538.7" font-size="8.5" font-weight="normal" fill="#231f20" text-anchor="start" font-family="Liberation Sans, sans-serif" >Proteasome</text></svg></body></html>
